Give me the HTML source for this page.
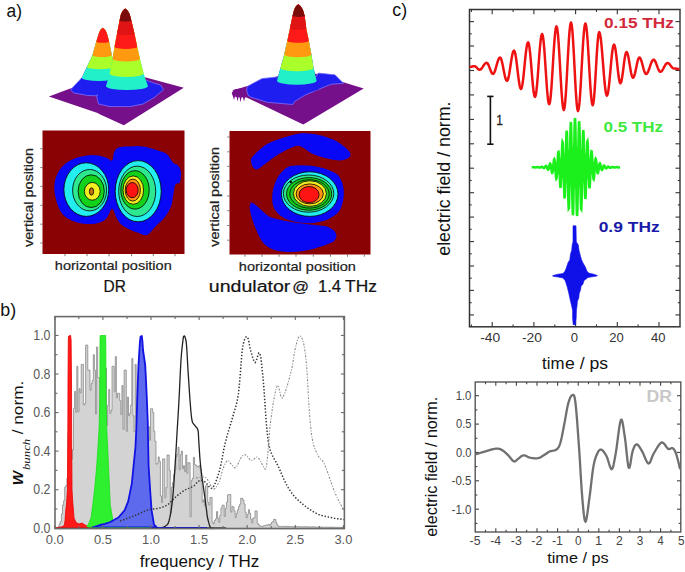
<!DOCTYPE html>
<html><head><meta charset="utf-8"><style>
html,body{margin:0;padding:0;background:#fff;width:685px;height:572px;overflow:hidden}
svg{display:block}
text{font-family:"Liberation Sans",sans-serif}
</style></head><body>
<svg width="685" height="572" viewBox="0 0 685 572">
<rect width="685" height="572" fill="#fff"/>
<polygon points="48.9,96.4 119,70.3 183.8,87.8 123.8,125.3 100.2,114.6 97.6,112.9" fill="#760f8a"/>
<path d="M81.8,77.8 L74,86 L70.5,90 L74,93 L88,95.5 L102,96 L110,92 L112,78 Z" fill="#1e1ef0" stroke="#7a70ff" stroke-width="0.8"/>
<path d="M104,84 L98.5,90 L96.8,97 L98.5,104 L110,106.6 L130,106.6 L143,104 L155,97 L163.5,89.5 L160.5,85 L152,82.5 L146,80 Z" fill="#1e1ef0" stroke="#7a70ff" stroke-width="0.8"/>
<path d="M102.8,27.7 L105.4,30.3 L106.7,32.9 L107.5,35.5 L108.2,38.1 L108.9,40.7 L109.4,43.3 L109.9,45.9 L110.5,48.5 L111.0,51.1 L111.5,53.7 L112.0,56.3 L112.5,58.8 L113.0,61.4 L113.5,64.0 L114.0,66.6 L114.4,69.2 L114.9,71.8 L115.4,74.4 L115.9,77.0 L116.7,79.6 L117.7,82.2 L118.7,84.8 L119.8,87.4 L120.0,90.0 A22.0,4.0 0 0 1 76.0,90.0 L76.3,87.4 L77.8,84.8 L79.3,82.2 L80.8,79.6 L82.2,77.0 L83.4,74.4 L84.6,71.8 L85.8,69.2 L87.0,66.6 L88.3,64.0 L89.5,61.4 L90.8,58.8 L92.0,56.3 L92.9,53.7 L93.7,51.1 L94.4,48.5 L95.1,45.9 L95.8,43.3 L96.6,40.7 L97.4,38.1 L98.2,35.5 L99.0,32.9 L100.2,30.3 Z" fill="#1e1ef0"/>
<path d="M102.8,27.7 L105.1,29.8 L106.2,31.9 L107.1,34.0 L107.6,36.0 L108.2,38.1 L108.7,40.2 L109.2,42.3 L109.7,44.4 L110.1,46.5 L110.5,48.6 L110.9,50.7 L111.3,52.8 L111.7,54.8 L112.1,56.9 L112.5,59.0 L112.9,61.1 L113.3,63.2 L113.7,65.3 L114.1,67.4 L114.5,69.4 L114.9,71.5 L115.2,73.6 L115.6,75.7 L116.0,77.8 A17.1,3.1 0 0 1 81.8,77.8 L82.8,75.7 L83.8,73.6 L84.7,71.5 L85.7,69.4 L86.7,67.4 L87.7,65.3 L88.7,63.2 L89.7,61.1 L90.7,59.0 L91.7,56.9 L92.6,54.8 L93.2,52.8 L93.8,50.7 L94.4,48.6 L94.9,46.5 L95.5,44.4 L96.1,42.3 L96.7,40.2 L97.4,38.1 L98.0,36.0 L98.7,34.0 L99.5,31.9 L100.5,29.8 Z" fill="#22f0c8"/>
<path d="M102.8,27.7 L104.8,29.3 L105.8,31.0 L106.6,32.6 L107.1,34.2 L107.6,35.9 L108.0,37.5 L108.4,39.1 L108.9,40.8 L109.3,42.4 L109.6,44.0 L109.9,45.7 L110.2,47.3 L110.6,48.9 L110.9,50.6 L111.2,52.2 L111.5,53.8 L111.9,55.5 L112.2,57.1 L112.5,58.7 L112.8,60.4 L113.1,62.0 L113.4,63.6 L113.7,65.3 L114.0,66.9 A13.5,2.4 0 0 1 86.9,66.9 L87.7,65.3 L88.5,63.6 L89.2,62.0 L90.0,60.4 L90.8,58.7 L91.6,57.1 L92.4,55.5 L92.9,53.8 L93.3,52.2 L93.8,50.6 L94.3,48.9 L94.7,47.3 L95.2,45.7 L95.6,44.0 L96.1,42.4 L96.6,40.8 L97.1,39.1 L97.6,37.5 L98.1,35.9 L98.6,34.2 L99.2,32.6 L99.9,31.0 L100.8,29.3 Z" fill="#aaff2a"/>
<path d="M102.8,27.7 L104.2,28.8 L105.3,30.0 L105.8,31.1 L106.4,32.3 L106.9,33.4 L107.2,34.6 L107.5,35.7 L107.8,36.9 L108.1,38.0 L108.4,39.2 L108.8,40.3 L109.1,41.5 L109.3,42.6 L109.5,43.7 L109.8,44.9 L110.0,46.0 L110.2,47.2 L110.4,48.3 L110.7,49.5 L110.9,50.6 L111.1,51.8 L111.3,52.9 L111.6,54.1 L111.8,55.2 A9.6,1.7 0 0 1 92.5,55.2 L92.8,54.1 L93.1,52.9 L93.5,51.8 L93.8,50.6 L94.1,49.5 L94.4,48.3 L94.7,47.2 L95.1,46.0 L95.4,44.9 L95.7,43.7 L96.0,42.6 L96.3,41.5 L96.7,40.3 L97.1,39.2 L97.4,38.0 L97.8,36.9 L98.1,35.7 L98.5,34.6 L98.9,33.4 L99.3,32.3 L99.9,31.1 L100.4,30.0 L101.4,28.8 Z" fill="#ff9a10"/>
<path d="M102.8,27.7 L103.5,28.3 L104.2,28.9 L104.9,29.4 L105.3,30.0 L105.6,30.6 L105.9,31.2 L106.2,31.8 L106.5,32.3 L106.8,32.9 L106.9,33.5 L107.1,34.1 L107.2,34.6 L107.4,35.2 L107.6,35.8 L107.7,36.4 L107.9,37.0 L108.0,37.5 L108.2,38.1 L108.3,38.7 L108.5,39.3 L108.6,39.9 L108.8,40.4 L108.9,41.0 L109.1,41.6 A6.4,1.2 0 0 1 96.3,41.6 L96.5,41.0 L96.7,40.4 L96.8,39.9 L97.0,39.3 L97.2,38.7 L97.4,38.1 L97.6,37.5 L97.8,37.0 L97.9,36.4 L98.1,35.8 L98.3,35.2 L98.5,34.6 L98.7,34.1 L98.8,33.5 L99.0,32.9 L99.3,32.3 L99.6,31.8 L99.8,31.2 L100.1,30.6 L100.4,30.0 L100.7,29.4 L101.4,28.9 L102.1,28.3 Z" fill="#ff1a1a"/>
<path d="M125.2,8.5 L128.3,11.7 L129.9,15.0 L130.7,18.2 L131.6,21.5 L132.3,24.7 L133.1,27.9 L133.9,31.2 L134.7,34.4 L135.3,37.6 L136.0,40.9 L136.7,44.1 L137.3,47.4 L138.1,50.6 L138.8,53.8 L139.6,57.1 L140.3,60.3 L141.2,63.5 L142.0,66.8 L142.8,70.0 L143.6,73.2 L144.6,76.5 L145.7,79.7 L146.9,83.0 L148.0,86.2 A21.1,4.2 0 0 1 105.9,86.2 L106.9,83.0 L107.8,79.7 L108.8,76.5 L109.7,73.2 L110.3,70.0 L111.0,66.8 L111.6,63.5 L112.2,60.3 L112.8,57.1 L113.3,53.8 L113.9,50.6 L114.4,47.4 L115.0,44.1 L115.6,40.9 L116.2,37.6 L116.8,34.4 L117.5,31.2 L118.1,27.9 L118.8,24.7 L119.4,21.5 L120.1,18.2 L120.8,15.0 L122.3,11.7 Z" fill="#22f0c8"/>
<path d="M125.2,8.5 L128.0,11.2 L129.6,13.9 L130.3,16.6 L131.0,19.3 L131.7,22.0 L132.4,24.8 L133.0,27.5 L133.7,30.2 L134.3,32.9 L134.9,35.6 L135.5,38.3 L136.0,41.0 L136.6,43.7 L137.1,46.4 L137.8,49.1 L138.4,51.8 L139.0,54.5 L139.6,57.2 L140.3,60.0 L140.9,62.7 L141.6,65.4 L142.3,68.1 L143.0,70.8 L143.6,73.5 A17.0,3.4 0 0 1 109.6,73.5 L110.2,70.8 L110.7,68.1 L111.2,65.4 L111.8,62.7 L112.3,60.0 L112.8,57.2 L113.2,54.5 L113.7,51.8 L114.1,49.1 L114.6,46.4 L115.1,43.7 L115.6,41.0 L116.1,38.3 L116.6,35.6 L117.1,32.9 L117.7,30.2 L118.2,27.5 L118.7,24.8 L119.3,22.0 L119.8,19.3 L120.4,16.6 L121.0,13.9 L122.6,11.2 Z" fill="#aaff2a"/>
<path d="M125.2,8.5 L127.7,10.6 L128.9,12.7 L129.8,14.8 L130.4,16.9 L130.9,19.0 L131.5,21.1 L132.0,23.2 L132.5,25.3 L133.0,27.4 L133.5,29.5 L134.0,31.6 L134.5,33.7 L135.0,35.8 L135.4,37.9 L135.8,40.0 L136.3,42.1 L136.7,44.2 L137.1,46.3 L137.6,48.4 L138.1,50.5 L138.6,52.6 L139.0,54.7 L139.5,56.8 L140.0,58.9 A13.8,2.8 0 0 1 112.5,58.9 L112.8,56.8 L113.2,54.7 L113.5,52.6 L113.9,50.5 L114.2,48.4 L114.6,46.3 L115.0,44.2 L115.4,42.1 L115.8,40.0 L116.2,37.9 L116.6,35.8 L117.0,33.7 L117.4,31.6 L117.8,29.5 L118.2,27.4 L118.6,25.3 L119.0,23.2 L119.5,21.1 L119.9,19.0 L120.4,16.9 L120.8,14.8 L121.7,12.7 L122.9,10.6 Z" fill="#ff9a10"/>
<path d="M125.2,8.5 L127.1,10.1 L128.3,11.7 L129.2,13.3 L129.8,14.9 L130.3,16.5 L130.7,18.1 L131.1,19.6 L131.5,21.2 L131.9,22.8 L132.3,24.4 L132.7,26.0 L133.0,27.6 L133.4,29.2 L133.8,30.8 L134.2,32.4 L134.6,34.0 L134.9,35.6 L135.2,37.2 L135.6,38.7 L135.9,40.3 L136.2,41.9 L136.5,43.5 L136.9,45.1 L137.2,46.7 A11.3,2.3 0 0 1 114.5,46.7 L114.8,45.1 L115.1,43.5 L115.4,41.9 L115.7,40.3 L116.0,38.7 L116.3,37.2 L116.6,35.6 L116.9,34.0 L117.2,32.4 L117.6,30.8 L117.9,29.2 L118.2,27.6 L118.5,26.0 L118.8,24.4 L119.1,22.8 L119.4,21.2 L119.8,19.6 L120.1,18.1 L120.5,16.5 L120.8,14.9 L121.4,13.3 L122.3,11.7 L123.4,10.1 Z" fill="#ff1a1a"/>
<path d="M125.2,8.5 L126.5,9.5 L127.7,10.6 L128.2,11.6 L128.8,12.7 L129.4,13.7 L129.8,14.8 L130.1,15.8 L130.4,16.9 L130.6,17.9 L130.9,19.0 L131.2,20.0 L131.5,21.1 L131.7,22.1 L132.0,23.1 L132.2,24.2 L132.5,25.2 L132.7,26.3 L133.0,27.3 L133.2,28.4 L133.5,29.4 L133.7,30.5 L134.0,31.5 L134.2,32.6 L134.5,33.6 A8.8,1.8 0 0 1 117.0,33.6 L117.2,32.6 L117.4,31.5 L117.6,30.5 L117.8,29.4 L118.0,28.4 L118.2,27.3 L118.4,26.3 L118.6,25.2 L118.9,24.2 L119.1,23.1 L119.3,22.1 L119.5,21.1 L119.7,20.0 L119.9,19.0 L120.1,17.9 L120.4,16.9 L120.6,15.8 L120.8,14.8 L121.2,13.7 L121.8,12.7 L122.3,11.6 L122.9,10.6 L124.0,9.5 Z" fill="#e01414"/>
<path d="M125.2,8.5 L125.8,9.0 L126.4,9.5 L127.0,10.0 L127.6,10.5 L127.9,11.0 L128.2,11.5 L128.4,12.0 L128.7,12.5 L129.0,13.0 L129.3,13.5 L129.6,14.0 L129.7,14.4 L129.9,14.9 L130.0,15.4 L130.1,15.9 L130.2,16.4 L130.4,16.9 L130.5,17.4 L130.6,17.9 L130.8,18.4 L130.9,18.9 L131.0,19.4 L131.2,19.9 L131.3,20.4 A5.9,1.2 0 0 1 119.6,20.4 L119.7,19.9 L119.8,19.4 L119.9,18.9 L120.0,18.4 L120.1,17.9 L120.3,17.4 L120.4,16.9 L120.5,16.4 L120.6,15.9 L120.7,15.4 L120.8,14.9 L120.9,14.4 L121.0,14.0 L121.3,13.5 L121.6,13.0 L121.9,12.5 L122.2,12.0 L122.4,11.5 L122.7,11.0 L123.0,10.5 L123.6,10.0 L124.1,9.5 L124.7,9.0 Z" fill="#7a0c0c"/>
<polygon points="232.4,90.7 300.3,69 363.7,88.6 303.3,124.6" fill="#760f8a"/>
<polygon points="231.7,93 234,89.5 238,88.8 242,88 247,86.5 249,97 244,97.5 238,97 233,96.5" fill="#760f8a"/>
<polygon points="232.9,96 235.1,96 234,100" fill="#760f8a"/>
<polygon points="236.4,96.5 238.6,96.5 237.5,101.5" fill="#760f8a"/>
<polygon points="239.4,96.8 241.6,96.8 240.5,102.3" fill="#760f8a"/>
<polygon points="242.9,97 245.1,97 244,101.5" fill="#760f8a"/>
<path d="M247.2,86.8 L251.3,84.2 L262,78.6 L277.9,76.9 L316,76.9 L318.1,73.1 L335,74.8 L343.5,83.3 L330.8,84.3 L318.1,89.6 L305.4,94.9 L294.9,101.3 L292.7,104.5 L267.3,102.3 L250.4,97 L248,95 L246.6,90 Z" fill="#1e1ef0" stroke="#7a70ff" stroke-width="0.8"/>
<path d="M298.3,4.2 L301.6,7.7 L303.3,11.2 L304.3,14.7 L304.9,18.2 L305.4,21.7 L305.8,25.1 L306.3,28.6 L307.0,32.1 L307.7,35.6 L308.4,39.1 L309.1,42.6 L309.8,46.1 L310.4,49.6 L311.1,53.1 L311.7,56.6 L312.3,60.1 L312.8,63.6 L313.4,67.0 L314.1,70.5 L315.0,74.0 L315.8,77.5 L316.7,81.0 L318.0,84.5 L319.3,88.0 A22.3,4.5 0 0 1 274.6,88.0 L275.8,84.5 L276.9,81.0 L277.9,77.5 L278.8,74.0 L279.8,70.5 L280.8,67.0 L281.7,63.6 L282.7,60.1 L283.7,56.6 L284.5,53.1 L285.3,49.6 L286.1,46.1 L286.9,42.6 L287.7,39.1 L288.4,35.6 L289.2,32.1 L289.9,28.6 L290.7,25.1 L291.4,21.7 L292.1,18.2 L292.9,14.7 L293.8,11.2 L295.2,7.7 Z" fill="#1e1ef0"/>
<path d="M298.3,4.2 L301.4,7.4 L303.1,10.6 L304.0,13.8 L304.8,16.9 L305.2,20.1 L305.6,23.3 L306.0,26.5 L306.5,29.7 L307.1,32.9 L307.8,36.1 L308.5,39.3 L309.1,42.5 L309.7,45.6 L310.3,48.8 L310.9,52.0 L311.5,55.2 L312.0,58.4 L312.5,61.6 L313.0,64.8 L313.5,68.0 L314.3,71.1 L315.0,74.3 L315.8,77.5 L316.6,80.7 A19.8,4.0 0 0 1 277.0,80.7 L277.9,77.5 L278.8,74.3 L279.6,71.1 L280.5,68.0 L281.4,64.8 L282.3,61.6 L283.2,58.4 L284.0,55.2 L284.8,52.0 L285.5,48.8 L286.2,45.6 L286.9,42.5 L287.7,39.3 L288.3,36.1 L289.0,32.9 L289.7,29.7 L290.4,26.5 L291.0,23.3 L291.7,20.1 L292.3,16.9 L293.1,13.8 L293.9,10.6 L295.4,7.4 Z" fill="#22f0c8"/>
<path d="M298.3,4.2 L301.0,6.9 L302.8,9.5 L303.6,12.2 L304.3,14.8 L304.8,17.5 L305.2,20.1 L305.5,22.8 L305.8,25.5 L306.2,28.1 L306.7,30.8 L307.3,33.4 L307.8,36.1 L308.4,38.8 L308.9,41.4 L309.4,44.1 L309.9,46.7 L310.4,49.4 L310.9,52.0 L311.4,54.7 L311.8,57.4 L312.3,60.0 L312.7,62.7 L313.1,65.3 L313.5,68.0 A16.5,3.3 0 0 1 280.5,68.0 L281.2,65.3 L282.0,62.7 L282.7,60.0 L283.4,57.4 L284.2,54.7 L284.8,52.0 L285.4,49.4 L286.0,46.7 L286.6,44.1 L287.2,41.4 L287.8,38.8 L288.3,36.1 L288.9,33.4 L289.5,30.8 L290.0,28.1 L290.6,25.5 L291.1,22.8 L291.7,20.1 L292.2,17.5 L292.8,14.8 L293.5,12.2 L294.2,9.5 L295.6,6.9 Z" fill="#aaff2a"/>
<path d="M298.3,4.2 L300.7,6.3 L302.1,8.4 L303.1,10.5 L303.7,12.6 L304.3,14.7 L304.7,16.8 L305.0,18.9 L305.3,21.0 L305.5,23.1 L305.8,25.2 L306.1,27.3 L306.4,29.4 L306.9,31.5 L307.3,33.6 L307.7,35.7 L308.2,37.8 L308.6,39.9 L309.0,42.0 L309.4,44.1 L309.8,46.2 L310.2,48.3 L310.6,50.4 L311.0,52.5 L311.4,54.6 A13.6,2.7 0 0 1 284.2,54.6 L284.7,52.5 L285.2,50.4 L285.6,48.3 L286.1,46.2 L286.6,44.1 L287.1,42.0 L287.5,39.9 L288.0,37.8 L288.4,35.7 L288.9,33.6 L289.3,31.5 L289.8,29.4 L290.2,27.3 L290.6,25.2 L291.1,23.1 L291.5,21.0 L291.9,18.9 L292.4,16.8 L292.9,14.7 L293.4,12.6 L293.9,10.5 L294.8,8.4 L295.9,6.3 Z" fill="#ff9a10"/>
<path d="M298.3,4.2 L300.1,5.7 L301.3,7.3 L302.3,8.8 L303.0,10.3 L303.5,11.8 L303.9,13.4 L304.4,14.9 L304.7,16.4 L304.9,18.0 L305.1,19.5 L305.3,21.0 L305.5,22.5 L305.7,24.1 L305.9,25.6 L306.1,27.1 L306.3,28.7 L306.6,30.2 L306.9,31.7 L307.2,33.3 L307.5,34.8 L307.9,36.3 L308.2,37.8 L308.5,39.4 L308.8,40.9 A10.8,2.1 0 0 1 287.3,40.9 L287.6,39.4 L288.0,37.8 L288.3,36.3 L288.6,34.8 L288.9,33.3 L289.3,31.7 L289.6,30.2 L289.9,28.7 L290.2,27.1 L290.6,25.6 L290.9,24.1 L291.2,22.5 L291.5,21.0 L291.8,19.5 L292.1,18.0 L292.4,16.4 L292.8,14.9 L293.2,13.4 L293.6,11.8 L294.0,10.3 L294.6,8.8 L295.4,7.3 L296.5,5.7 Z" fill="#ff1a1a"/>
<path d="M298.3,4.2 L299.5,5.2 L300.6,6.2 L301.3,7.2 L301.9,8.2 L302.6,9.2 L303.0,10.2 L303.3,11.2 L303.6,12.2 L303.9,13.2 L304.2,14.2 L304.5,15.2 L304.7,16.3 L304.8,17.3 L304.9,18.3 L305.1,19.3 L305.2,20.3 L305.3,21.3 L305.4,22.3 L305.6,23.3 L305.7,24.3 L305.8,25.3 L305.9,26.3 L306.1,27.3 L306.2,28.3 A8.1,1.6 0 0 1 290.0,28.3 L290.2,27.3 L290.4,26.3 L290.6,25.3 L290.8,24.3 L291.0,23.3 L291.2,22.3 L291.5,21.3 L291.7,20.3 L291.9,19.3 L292.1,18.3 L292.3,17.3 L292.5,16.3 L292.7,15.2 L293.0,14.2 L293.2,13.2 L293.5,12.2 L293.8,11.2 L294.0,10.2 L294.4,9.2 L294.9,8.2 L295.4,7.2 L296.0,6.2 L297.1,5.2 Z" fill="#e01414"/>
<path d="M298.3,4.2 L298.9,4.7 L299.4,5.2 L300.0,5.6 L300.5,6.1 L300.9,6.6 L301.2,7.1 L301.5,7.6 L301.8,8.0 L302.1,8.5 L302.5,9.0 L302.8,9.5 L302.9,9.9 L303.1,10.4 L303.2,10.9 L303.3,11.4 L303.5,11.9 L303.6,12.3 L303.8,12.8 L303.9,13.3 L304.0,13.8 L304.2,14.3 L304.3,14.7 L304.5,15.2 L304.6,15.7 A6.0,1.2 0 0 1 292.6,15.7 L292.7,15.2 L292.8,14.7 L293.0,14.3 L293.1,13.8 L293.2,13.3 L293.3,12.8 L293.5,12.3 L293.6,11.9 L293.7,11.4 L293.8,10.9 L294.0,10.4 L294.1,9.9 L294.2,9.5 L294.5,9.0 L294.7,8.5 L295.0,8.0 L295.3,7.6 L295.5,7.1 L295.8,6.6 L296.1,6.1 L296.6,5.6 L297.2,5.2 L297.7,4.7 Z" fill="#7a0c0c"/>
<rect x="42.5" y="130.5" width="142" height="123.5" fill="#8a0204"/>
<polygon points="114.20,151.90 114.82,150.69 115.45,149.67 116.20,148.82 117.18,148.10 118.50,147.50 120.24,147.05 122.32,146.77 124.63,146.60 127.06,146.50 129.50,146.40 131.99,146.28 134.59,146.16 137.26,146.11 139.95,146.17 142.60,146.40 145.26,146.83 147.95,147.43 150.62,148.15 153.22,148.92 155.70,149.70 158.09,150.42 160.42,151.13 162.66,151.91 164.73,152.84 166.60,154.00 168.23,155.58 169.66,157.51 170.92,159.54 172.09,161.39 173.20,162.80 174.24,163.59 175.17,163.95 176.02,164.13 176.83,164.39 177.60,165.00 178.40,165.95 179.21,167.07 179.95,168.37 180.54,169.84 180.90,171.50 181.01,173.55 180.94,176.00 180.69,178.52 180.30,180.79 179.80,182.50 179.10,183.36 178.17,183.60 177.16,183.62 176.19,183.84 175.40,184.70 174.82,186.32 174.36,188.43 173.97,190.82 173.60,193.28 173.20,195.60 172.83,197.78 172.53,199.96 172.19,202.13 171.72,204.31 171.00,206.50 170.01,208.73 168.82,211.00 167.47,213.26 166.02,215.45 164.50,217.50 162.89,219.39 161.14,221.14 159.32,222.82 157.49,224.49 155.70,226.20 153.96,228.13 152.22,230.24 150.48,232.27 148.74,233.94 147.00,235.00 145.24,235.28 143.48,234.96 141.72,234.29 139.96,233.49 138.20,232.80 136.46,232.25 134.72,231.66 132.98,231.03 131.24,230.32 129.50,229.50 127.68,228.56 125.78,227.51 123.91,226.38 122.18,225.20 120.70,224.00 119.54,222.80 118.62,221.58 117.85,220.31 117.11,218.96 116.30,217.50 115.45,215.57 114.64,213.20 113.81,210.91 112.91,209.24 111.90,208.70 110.84,209.72 109.77,211.95 108.58,214.76 107.16,217.52 105.40,219.60 103.27,221.00 100.85,222.14 98.17,223.03 95.31,223.65 92.30,224.00 89.01,224.09 85.41,223.91 81.69,223.46 78.09,222.76 74.80,221.80 71.79,220.62 68.93,219.21 66.26,217.53 63.83,215.51 61.70,213.10 59.86,210.13 58.28,206.63 56.95,202.86 55.89,199.10 55.10,195.60 54.57,192.36 54.31,189.22 54.31,186.16 54.57,183.18 55.10,180.30 55.89,177.47 56.95,174.70 58.28,172.02 59.86,169.51 61.70,167.20 63.83,165.08 66.26,163.11 68.93,161.32 71.79,159.74 74.80,158.40 78.09,157.30 81.69,156.42 85.41,155.76 89.01,155.32 92.30,155.10 95.31,155.17 98.17,155.53 100.85,156.08 103.27,156.70 105.40,157.30 107.19,158.08 108.68,159.12 109.92,160.09 110.97,160.69 111.90,160.60 112.60,159.56 113.03,157.78 113.34,155.65 113.68,153.56" fill="#0808f6"/>
<ellipse cx="86.3" cy="189.6" rx="22.4" ry="26.8" fill="#22eef0" stroke="#000" stroke-width="0.8"/>
<ellipse cx="89.6" cy="190.2" rx="17" ry="20.7" fill="#2ee890" stroke="#000" stroke-width="0.8"/>
<ellipse cx="91.2" cy="191.2" rx="13.1" ry="16.4" fill="#12d21a" stroke="#000" stroke-width="0.8"/>
<ellipse cx="92.3" cy="191.3" rx="7.9" ry="8.9" fill="#f2f020" stroke="#000" stroke-width="0.8"/>
<ellipse cx="91.5" cy="191.5" rx="2.1" ry="3.7" fill="#c07010" stroke="#000" stroke-width="0.8"/>
<ellipse cx="138.2" cy="191.2" rx="23" ry="30.6" fill="#22eef0" stroke="#000" stroke-width="0.8"/>
<ellipse cx="137.2" cy="191.3" rx="18.5" ry="25.2" fill="#2ee890" stroke="#000" stroke-width="0.8"/>
<ellipse cx="135" cy="189.9" rx="14.2" ry="19.2" fill="#12d21a" stroke="#000" stroke-width="0.8"/>
<ellipse cx="133.3" cy="190.1" rx="10.3" ry="14.2" fill="#f2f020" stroke="#000" stroke-width="0.8"/>
<ellipse cx="132.8" cy="190.1" rx="7.6" ry="11" fill="#ff9410" stroke="#000" stroke-width="0.8"/>
<ellipse cx="132.2" cy="190.1" rx="6" ry="7.6" fill="#ff1414" stroke="#000" stroke-width="0.8"/>
<line x1="40.3" y1="148.7" x2="42.5" y2="148.7" stroke="#555" stroke-width="0.8" />
<line x1="40.3" y1="167.6" x2="42.5" y2="167.6" stroke="#555" stroke-width="0.8" />
<line x1="40.3" y1="186.4" x2="42.5" y2="186.4" stroke="#555" stroke-width="0.8" />
<line x1="40.3" y1="205.3" x2="42.5" y2="205.3" stroke="#555" stroke-width="0.8" />
<line x1="40.3" y1="224.2" x2="42.5" y2="224.2" stroke="#555" stroke-width="0.8" />
<line x1="40.3" y1="243.0" x2="42.5" y2="243.0" stroke="#555" stroke-width="0.8" />
<line x1="65.0" y1="254.0" x2="65.0" y2="256.2" stroke="#555" stroke-width="0.8" />
<line x1="87.0" y1="254.0" x2="87.0" y2="256.2" stroke="#555" stroke-width="0.8" />
<line x1="109.0" y1="254.0" x2="109.0" y2="256.2" stroke="#555" stroke-width="0.8" />
<line x1="131.6" y1="254.0" x2="131.6" y2="256.2" stroke="#555" stroke-width="0.8" />
<line x1="153.3" y1="254.0" x2="153.3" y2="256.2" stroke="#555" stroke-width="0.8" />
<line x1="175.0" y1="254.0" x2="175.0" y2="256.2" stroke="#555" stroke-width="0.8" />
<rect x="229.5" y="131" width="141" height="123.5" fill="#8a0204"/>
<polygon points="252.30,156.90 254.22,154.80 256.80,152.23 259.83,149.47 263.07,146.83 266.30,144.60 269.58,142.82 273.05,141.29 276.63,139.95 280.24,138.74 283.80,137.60 287.30,136.47 290.80,135.40 294.30,134.46 297.80,133.73 301.30,133.30 304.83,133.20 308.38,133.38 311.92,133.77 315.41,134.33 318.80,135.00 322.15,135.80 325.50,136.78 328.74,137.88 331.81,139.07 334.60,140.30 337.12,141.61 339.44,143.02 341.54,144.48 343.42,145.93 345.10,147.30 346.59,148.60 347.89,149.89 348.97,151.13 349.79,152.30 350.30,153.40 350.52,154.42 350.46,155.37 350.12,156.25 349.50,157.06 348.60,157.80 347.35,158.51 345.75,159.18 343.91,159.76 341.89,160.19 339.80,160.40 337.61,160.36 335.25,160.12 332.77,159.71 330.21,159.19 327.60,158.60 324.80,157.90 321.80,157.06 318.79,156.15 315.99,155.21 313.60,154.30 311.74,153.42 310.26,152.52 309.00,151.63 307.80,150.75 306.50,149.90 305.09,149.00 303.69,148.05 302.30,147.16 300.90,146.44 299.50,146.00 298.21,145.84 297.04,145.87 295.80,146.12 294.35,146.59 292.50,147.30 290.12,148.31 287.32,149.61 284.31,151.10 281.30,152.70 278.50,154.30 275.89,155.97 273.33,157.78 270.85,159.62 268.49,161.39 266.30,163.00 264.25,164.53 262.32,166.04 260.54,167.42 258.92,168.51 257.50,169.20 256.30,169.41 255.30,169.22 254.47,168.75 253.75,168.11 253.10,167.40 252.51,166.58 252.02,165.57 251.62,164.45 251.35,163.30 251.20,162.20 251.02,161.26 250.80,160.42 250.79,159.53 251.21,158.41" fill="#0808f6"/>
<path d="M250.7,202.5 C256,203 262,212 270,217 C285,222 305,224 325,226 C336,229 340,236 333,242 C322,247 305,252 290,252 C275,252 265,248 260,238 C255,228 250,215 249.6,207 Z" fill="#0808f6"/>
<path d="M290,166 C305,164 325,166 338,175 C346,185 345,200 340,210 C333,220 318,224 305,223 C290,222 276,217 273,205 C270,192 276,172 290,166 Z" fill="#0808f6"/>
<ellipse cx="309.7" cy="194.1" rx="28.3" ry="22.3" fill="#22eef0" stroke="#000" stroke-width="0.8"/>
<ellipse cx="308.6" cy="193.6" rx="25.2" ry="18.6" fill="#2ee890" stroke="#000" stroke-width="0.8"/>
<ellipse cx="309.1" cy="193.9" rx="22.6" ry="16.3" fill="#12d21a" stroke="#000" stroke-width="0.8"/>
<ellipse cx="309.5" cy="193.9" rx="19.7" ry="14.2" fill="#28c828" stroke="#000" stroke-width="0.8"/>
<ellipse cx="309.9" cy="193.6" rx="16.5" ry="12.8" fill="#f2f020" stroke="#000" stroke-width="0.8"/>
<ellipse cx="309.7" cy="193.9" rx="13.6" ry="10" fill="#ff9410" stroke="#000" stroke-width="0.8"/>
<ellipse cx="309.1" cy="194.6" rx="10" ry="8.1" fill="#ff1414" stroke="#000" stroke-width="0.8"/>
<circle cx="290.8" cy="182" r="1.2" fill="#000"/>
<line x1="227.3" y1="137.0" x2="229.5" y2="137.0" stroke="#555" stroke-width="0.8" />
<line x1="227.3" y1="151.8" x2="229.5" y2="151.8" stroke="#555" stroke-width="0.8" />
<line x1="227.3" y1="166.4" x2="229.5" y2="166.4" stroke="#555" stroke-width="0.8" />
<line x1="227.3" y1="181.0" x2="229.5" y2="181.0" stroke="#555" stroke-width="0.8" />
<line x1="227.3" y1="196.0" x2="229.5" y2="196.0" stroke="#555" stroke-width="0.8" />
<line x1="227.3" y1="210.7" x2="229.5" y2="210.7" stroke="#555" stroke-width="0.8" />
<line x1="227.3" y1="225.5" x2="229.5" y2="225.5" stroke="#555" stroke-width="0.8" />
<line x1="227.3" y1="240.2" x2="229.5" y2="240.2" stroke="#555" stroke-width="0.8" />
<line x1="245.0" y1="254.5" x2="245.0" y2="256.7" stroke="#555" stroke-width="0.8" />
<line x1="262.0" y1="254.5" x2="262.0" y2="256.7" stroke="#555" stroke-width="0.8" />
<line x1="279.0" y1="254.5" x2="279.0" y2="256.7" stroke="#555" stroke-width="0.8" />
<line x1="296.0" y1="254.5" x2="296.0" y2="256.7" stroke="#555" stroke-width="0.8" />
<line x1="313.3" y1="254.5" x2="313.3" y2="256.7" stroke="#555" stroke-width="0.8" />
<line x1="330.5" y1="254.5" x2="330.5" y2="256.7" stroke="#555" stroke-width="0.8" />
<line x1="347.5" y1="254.5" x2="347.5" y2="256.7" stroke="#555" stroke-width="0.8" />
<line x1="364.3" y1="254.5" x2="364.3" y2="256.7" stroke="#555" stroke-width="0.8" />
<polygon points="56.00,528.30 57.00,527.80 58.10,527.80 58.10,526.74 59.20,526.74 59.20,523.81 60.30,523.81 60.30,521.39 61.40,521.39 61.40,513.82 62.50,513.82 62.50,505.05 63.60,505.05 63.60,500.79 64.70,500.79 64.70,487.24 65.80,487.24 65.80,485.47 66.90,485.47 66.90,478.17 68.00,478.17 68.00,433.04 69.10,433.04 69.10,447.14 70.20,447.14 70.20,448.97 71.30,448.97 71.30,459.14 72.40,459.14 72.40,449.70 73.50,449.70 73.50,408.44 74.60,408.44 74.60,391.34 75.70,391.34 75.70,412.40 76.80,412.40 76.80,366.26 77.90,366.26 77.90,411.76 79.00,411.76 79.00,388.69 80.10,388.69 80.10,392.94 81.20,392.94 81.20,364.33 82.30,364.33 82.30,364.33 83.40,364.33 83.40,404.85 84.50,404.85 84.50,403.61 85.60,403.61 85.60,345.04 86.70,345.04 86.70,345.04 87.80,345.04 87.80,370.12 88.90,370.12 88.90,370.12 90.00,370.12 90.00,390.24 91.10,390.24 91.10,383.62 92.20,383.62 92.20,380.54 93.30,380.54 93.30,354.69 94.40,354.69 94.40,370.25 95.50,370.25 95.50,413.99 96.60,413.99 96.60,346.97 97.70,346.97 97.70,377.84 98.80,377.84 98.80,377.84 99.90,377.84 99.90,418.28 101.00,418.28 101.00,389.11 102.10,389.11 102.10,417.12 103.20,417.12 103.20,422.05 104.30,422.05 104.30,398.34 105.40,398.34 105.40,368.19 106.50,368.19 106.50,425.34 107.60,425.34 107.60,405.22 108.70,405.22 108.70,389.41 109.80,389.41 109.80,413.33 110.90,413.33 110.90,410.11 112.00,410.11 112.00,366.26 113.10,366.26 113.10,366.26 114.20,366.26 114.20,391.77 115.30,391.77 115.30,356.62 116.40,356.62 116.40,397.92 117.50,397.92 117.50,393.27 118.60,393.27 118.60,393.27 119.70,393.27 119.70,400.73 120.80,400.73 120.80,414.39 121.90,414.39 121.90,385.55 123.00,385.55 123.00,429.28 124.10,429.28 124.10,370.12 125.20,370.12 125.20,370.12 126.30,370.12 126.30,431.29 127.40,431.29 127.40,397.13 128.50,397.13 128.50,415.71 129.60,415.71 129.60,413.32 130.70,413.32 130.70,405.03 131.80,405.03 131.80,358.55 132.90,358.55 132.90,415.78 134.00,415.78 134.00,431.72 135.10,431.72 135.10,364.33 136.20,364.33 136.20,417.97 137.30,417.97 137.30,427.37 138.40,427.37 138.40,429.15 139.50,429.15 139.50,450.59 140.60,450.59 140.60,429.51 141.70,429.51 141.70,450.48 142.80,450.48 142.80,436.26 143.90,436.26 143.90,441.30 145.00,441.30 145.00,448.82 146.10,448.82 146.10,428.39 147.20,428.39 147.20,428.39 148.30,428.39 148.30,426.66 149.40,426.66 149.40,440.28 150.50,440.28 150.50,408.70 151.60,408.70 151.60,408.70 152.70,408.70 152.70,412.56 153.80,412.56 153.80,431.32 154.90,431.32 154.90,441.24 156.00,441.24 156.00,464.19 157.10,464.19 157.10,463.18 158.20,463.18 158.20,456.93 159.30,456.93 159.30,461.40 160.40,461.40 160.40,495.81 161.50,495.81 161.50,502.67 162.60,502.67 162.60,458.86 163.70,458.86 163.70,458.86 164.80,458.86 164.80,497.91 165.90,497.91 165.90,487.60 167.00,487.60 167.00,455.00 168.10,455.00 168.10,455.00 169.20,455.00 169.20,470.43 170.30,470.43 170.30,513.03 171.40,513.03 171.40,487.24 172.50,487.24 172.50,482.45 173.60,482.45 173.60,474.64 174.70,474.64 174.70,469.92 175.80,469.92 175.80,456.32 176.90,456.32 176.90,454.25 178.00,454.25 178.00,447.28 179.10,447.28 179.10,469.83 180.20,469.83 180.20,454.76 181.30,454.76 181.30,451.14 182.40,451.14 182.40,468.62 183.50,468.62 183.50,465.68 184.60,465.68 184.60,471.59 185.70,471.59 185.70,455.00 186.80,455.00 186.80,473.30 187.90,473.30 187.90,462.64 189.00,462.64 189.00,462.86 190.10,462.86 190.10,516.85 191.20,516.85 191.20,480.43 192.30,480.43 192.30,478.28 193.40,478.28 193.40,457.37 194.50,457.37 194.50,464.64 195.60,464.64 195.60,465.33 196.70,465.33 196.70,466.57 197.80,466.57 197.80,466.57 198.90,466.57 198.90,465.79 200.00,465.79 200.00,468.97 201.10,468.97 201.10,482.16 202.20,482.16 202.20,502.15 203.30,502.15 203.30,499.80 204.40,499.80 204.40,505.91 205.50,505.91 205.50,485.86 206.60,485.86 206.60,485.86 207.70,485.86 207.70,502.15 208.80,502.15 208.80,505.13 209.90,505.13 209.90,497.44 211.00,497.44 211.00,497.44 212.10,497.44 212.10,522.32 213.20,522.32 213.20,523.73 214.30,523.73 214.30,520.52 215.40,520.52 215.40,518.88 216.50,518.88 216.50,511.61 217.60,511.61 217.60,518.11 218.70,518.11 218.70,522.21 219.80,522.21 219.80,515.45 220.90,515.45 220.90,508.33 222.00,508.33 222.00,505.15 223.10,505.15 223.10,505.15 224.20,505.15 224.20,516.46 225.30,516.46 225.30,508.38 226.40,508.38 226.40,502.15 227.50,502.15 227.50,494.87 228.60,494.87 228.60,494.54 229.70,494.54 229.70,494.54 230.80,494.54 230.80,512.09 231.90,512.09 231.90,506.35 233.00,506.35 233.00,507.16 234.10,507.16 234.10,511.02 235.20,511.02 235.20,517.41 236.30,517.41 236.30,513.33 237.40,513.33 237.40,509.82 238.50,509.82 238.50,506.57 239.60,506.57 239.60,504.16 240.70,504.16 240.70,498.17 241.80,498.17 241.80,498.59 242.90,498.59 242.90,500.16 244.00,500.16 244.00,504.03 245.10,504.03 245.10,512.21 246.20,512.21 246.20,517.80 247.30,517.80 247.30,514.32 248.40,514.32 248.40,509.66 249.50,509.66 249.50,513.07 250.60,513.07 250.60,519.11 251.70,519.11 251.70,523.03 252.80,523.03 252.80,518.04 253.90,518.04 253.90,517.74 255.00,517.74 255.00,510.94 256.10,510.94 256.10,510.94 257.20,510.94 257.20,523.27 258.30,523.27 258.30,524.67 259.40,524.67 259.40,525.83 260.50,525.83 260.50,526.28 261.60,526.28 261.60,526.40 262.70,526.40 262.70,526.00 263.80,526.00 263.80,525.63 264.90,525.63 264.90,525.48 266.00,525.48 266.00,524.96 267.10,524.96 267.10,525.15 268.20,525.15 268.20,524.37 269.30,524.37 269.30,525.14 270.40,525.14 270.40,523.98 271.50,523.98 271.50,522.27 272.60,522.27 272.60,521.60 273.70,521.60 273.70,519.23 274.80,519.23 274.80,519.52 275.90,519.52 275.90,522.58 277.00,522.58 277.00,525.00 278.10,525.00 278.10,526.42 279.20,526.42 279.20,526.59 280.30,526.59 280.30,526.56 281.40,526.56 281.40,526.30 282.50,526.30 282.50,526.28 283.60,526.28 283.60,526.71 284.70,526.71 284.70,526.35 285.80,526.35 285.80,526.29 286.90,526.29 286.90,526.57 288.00,526.57 288.00,526.55 289.10,526.55 289.10,526.78 290.20,526.78 290.20,526.61 291.30,526.61 291.30,526.64 292.40,526.64 292.40,526.60 293.50,526.60 293.50,526.93 294.60,526.93 294.60,526.44 295.70,526.44 295.70,526.70 296.80,526.70 296.80,526.77 297.90,526.77 297.90,526.58 299.00,526.58 299.00,526.72 300.10,526.72 300.10,526.77 301.20,526.77 301.20,526.68 302.30,526.68 302.30,527.01 303.40,527.01 303.40,526.79 304.50,526.79 304.50,526.87 305.60,526.87 305.60,526.62 306.70,526.62 306.70,526.66 307.80,526.66 307.80,526.98 308.90,526.98 308.90,526.90 310.00,526.90 310.00,527.08 311.10,527.08 311.10,526.95 312.20,526.95 312.20,526.79 313.30,526.79 313.30,526.77 314.40,526.77 314.40,526.98 315.50,526.98 315.50,527.06 316.60,527.06 316.60,527.13 317.70,527.13 317.70,526.96 318.80,526.96 318.80,526.85 319.90,526.85 319.90,527.20 321.00,527.20 321.00,526.94 322.10,526.94 322.10,527.27 323.20,527.27 323.20,527.21 324.30,527.21 324.30,527.21 325.40,527.21 325.40,527.05 326.50,527.05 326.50,527.21 327.60,527.21 327.60,527.21 328.70,527.21 328.70,527.12 329.80,527.12 329.80,527.33 330.90,527.33 330.90,527.11 332.00,527.11 332.00,527.35 333.10,527.35 333.10,527.23 334.20,527.23 334.20,527.33 335.30,527.33 335.30,527.36 336.40,527.36 336.40,527.26 337.50,527.26 337.50,527.31 338.60,527.31 338.60,527.35 339.70,527.35 339.70,527.35 340.80,527.35 340.80,527.33 341.90,527.33 341.90,527.46 343.00,527.46 343.00,527.46 344.10,527.46 344.00,528.30" fill="#d3d3d3" stroke="#7e7e7e" stroke-width="0.7" stroke-linejoin="round"/>
<polygon points="56.00,527.80 62.00,526.80 64.20,525.50 65.00,521.00 65.60,512.00 66.60,503.00 67.40,490.00 67.80,440.00 68.00,380.00 68.30,340.00 68.60,336.00 70.60,335.40 71.10,340.00 71.50,380.00 71.70,440.00 72.00,490.00 72.80,503.00 73.60,512.00 74.00,518.00 76.00,522.50 79.00,524.00 82.00,523.00 85.00,525.00 88.00,526.50 92.00,527.70" fill="#ff1a1a" stroke="#e80000" stroke-width="0.8"/>
<polygon points="86.00,528.00 88.50,524.00 91.00,518.00 92.70,505.40 94.50,490.00 96.40,470.00 97.80,450.00 99.00,430.00 99.80,400.00 100.00,340.00 100.20,335.50 105.60,335.50 105.80,340.00 106.00,400.00 106.80,430.00 107.80,450.00 108.70,470.00 109.60,490.00 110.30,505.40 113.00,521.00 116.00,526.50 120.00,528.00" fill="#2ef02e" stroke="#18e018" stroke-width="0.8"/>
<polygon points="92.00,527.50 100.00,525.00 105.00,523.80 110.40,522.00 118.40,517.50 124.60,510.40 128.20,501.40 131.80,483.60 133.60,465.70 135.40,447.90 136.40,428.00 137.20,400.00 137.80,382.40 138.50,365.00 139.40,350.00 140.00,341.00 140.60,336.50 141.80,336.00 142.40,341.00 143.00,350.00 145.20,365.00 146.10,382.40 146.90,400.00 147.70,420.00 148.60,465.70 150.30,492.50 151.60,510.40 154.00,524.60 156.80,527.50" fill="#5e6aee" stroke="#1212e2" stroke-width="1.8" stroke-linejoin="round"/>
<polyline points="160.00,528.20 161.04,527.87 162.53,527.41 164.14,526.80 165.50,526.00 166.52,525.32 167.38,524.67 168.17,523.44 169.00,521.00 169.90,517.20 170.81,512.38 171.69,506.61 172.50,500.00 173.22,492.23 173.89,483.38 174.51,474.08 175.10,465.00 175.67,456.13 176.20,447.19 176.71,438.40 177.20,430.00 177.67,422.38 178.11,415.31 178.54,408.09 179.00,400.00 179.49,390.23 179.99,379.38 180.50,368.83 181.00,360.00 181.53,353.21 182.08,347.73 182.58,343.39 183.00,340.00 183.27,337.83 183.45,336.86 183.60,336.53 183.80,336.30 184.06,335.99 184.36,335.92 184.67,336.21 185.00,337.00 185.35,338.09 185.73,339.48 186.12,341.63 186.50,345.00 186.86,349.94 187.22,356.12 187.59,363.00 188.00,370.00 188.47,377.38 188.97,385.31 189.50,393.09 190.00,400.00 190.47,406.05 190.91,411.56 191.38,416.29 191.90,420.00 192.48,422.30 193.11,423.44 193.78,424.10 194.50,425.00 195.35,426.14 196.31,427.21 197.21,428.43 197.90,430.00 198.26,431.71 198.40,433.52 198.49,435.98 198.70,439.60 199.04,444.82 199.43,451.26 199.91,458.22 200.50,465.00 201.28,471.69 202.21,478.57 203.16,485.24 204.00,491.30 204.73,496.77 205.41,501.83 206.00,506.29 206.50,510.00 206.81,512.60 206.97,514.29 207.15,515.71 207.50,517.50 208.08,520.04 208.79,522.92 209.58,525.59 210.40,527.50 211.34,528.37 212.38,528.52 213.34,528.37 214.00,528.30" fill="none" stroke="#222" stroke-width="1.3"/>
<polyline points="120.00,521.00 122.63,520.06 126.42,518.71 130.62,517.18 134.50,515.70 137.99,514.20 141.44,512.61 144.75,511.14 147.80,510.00 150.50,509.38 152.93,509.11 155.24,508.92 157.60,508.50 160.06,507.87 162.54,507.16 164.97,506.24 167.30,505.00 169.49,503.28 171.59,501.18 173.64,498.99 175.70,497.00 177.84,495.20 180.00,493.47 182.09,491.91 184.00,490.60 185.71,489.63 187.27,488.93 188.69,488.37 190.00,487.80 191.10,487.30 192.03,486.90 192.93,486.43 194.00,485.70 195.29,484.46 196.70,482.88 198.16,481.40 199.60,480.50 200.98,480.29 202.36,480.52 203.75,481.12 205.20,482.00 206.76,483.62 208.39,485.87 210.01,487.81 211.50,488.50 212.84,487.58 214.08,485.57 215.26,482.94 216.40,480.10 217.52,477.11 218.59,473.76 219.62,470.11 220.60,466.20 221.52,461.85 222.39,457.11 223.24,452.36 224.10,448.00 224.94,444.25 225.77,440.86 226.63,437.54 227.60,434.00 228.68,430.33 229.84,426.63 231.09,422.62 232.40,418.00 233.86,413.06 235.44,407.84 237.00,401.67 238.40,393.90 239.57,383.08 240.59,369.97 241.56,357.29 242.60,347.70 243.74,341.88 244.92,338.41 246.10,336.86 247.20,336.80 248.20,338.88 249.12,343.06 250.04,347.92 251.00,352.00 252.01,355.42 253.05,358.79 254.11,361.39 255.20,362.50 256.34,360.60 257.53,356.51 258.70,353.04 259.80,353.00 260.80,357.48 261.74,364.86 262.63,373.91 263.50,383.40 264.33,393.94 265.11,405.88 265.89,417.57 266.70,427.40 267.45,434.75 268.15,440.55 269.00,445.47 270.20,450.20 271.88,454.63 273.91,458.49 276.09,462.21 278.20,466.20 280.17,470.67 282.13,475.37 284.14,480.01 286.30,484.30 288.48,488.11 290.68,491.60 293.19,494.97 296.30,498.40 300.30,502.14 304.97,506.02 309.83,509.61 314.40,512.50 318.63,514.46 322.74,515.75 326.70,516.67 330.50,517.50 334.37,518.28 338.26,518.86 341.64,519.29 344.00,519.60" fill="none" stroke="#333" stroke-width="1.5" stroke-dasharray="1.4 1.8"/>
<polyline points="196.00,478.00 196.69,477.90 197.67,477.76 198.82,477.62 200.00,477.50 201.26,477.33 202.63,477.11 203.99,477.03 205.20,477.30 206.16,477.96 206.97,478.91 207.77,480.10 208.70,481.50 209.81,483.54 211.02,486.09 212.29,488.28 213.60,489.20 214.98,488.50 216.44,486.70 217.88,484.22 219.20,481.50 220.35,478.30 221.39,474.51 222.38,470.74 223.40,467.60 224.45,465.10 225.51,462.97 226.56,461.40 227.60,460.60 228.63,460.90 229.65,462.09 230.67,463.59 231.70,464.80 232.71,465.91 233.71,467.12 234.75,467.88 235.90,467.60 237.23,465.69 238.70,462.60 240.17,459.36 241.50,457.00 242.62,455.72 243.60,454.99 244.58,454.76 245.70,455.00 247.00,456.08 248.41,457.90 249.87,459.67 251.30,460.60 252.74,460.15 254.19,458.84 255.61,457.51 256.90,457.00 258.03,457.59 259.04,458.83 260.00,460.39 261.00,462.00 262.09,464.02 263.23,466.48 264.30,468.49 265.20,469.20 265.81,468.84 266.23,467.73 266.63,465.09 267.20,460.20 267.94,451.98 268.78,441.13 269.75,429.51 270.90,419.00 272.32,409.01 273.96,398.89 275.64,390.46 277.20,385.50 278.50,386.27 279.67,391.22 280.90,396.44 282.40,398.00 284.37,394.32 286.66,387.68 288.92,379.92 290.80,372.90 292.15,366.76 293.16,360.63 294.05,354.86 295.00,349.80 296.05,345.27 297.10,341.16 298.15,337.98 299.20,336.20 300.28,336.01 301.37,337.12 302.43,339.35 303.40,342.50 304.28,346.58 305.08,351.67 305.82,357.68 306.50,364.50 307.10,372.64 307.61,381.97 308.10,391.46 308.60,400.10 309.11,407.76 309.61,414.93 310.13,421.51 310.70,427.40 311.28,432.43 311.87,436.70 312.55,440.50 313.40,444.10 314.46,447.54 315.69,450.69 317.02,453.57 318.40,456.20 319.80,458.16 321.26,459.57 322.82,461.30 324.50,464.20 326.41,468.92 328.51,474.87 330.60,481.01 332.50,486.30 334.15,490.49 335.66,494.13 337.08,497.38 338.50,500.40 340.04,503.34 341.62,506.08 343.02,508.38 344.00,510.00" fill="none" stroke="#8a8a8a" stroke-width="1.1" stroke-dasharray="2 1.5 1 1.5"/>
<line x1="55.0" y1="527.6" x2="92.0" y2="527.6" stroke="#e01010" stroke-width="1.2" />
<line x1="88.0" y1="527.8" x2="157.0" y2="527.8" stroke="#20a040" stroke-width="1.2" />
<line x1="150.0" y1="527.9" x2="207.0" y2="527.9" stroke="#1414c8" stroke-width="1.6" />
<line x1="207.0" y1="528.0" x2="226.0" y2="528.0" stroke="#222" stroke-width="1.3" />
<rect x="55.0" y="316.6" width="289.4" height="212.0" fill="none" stroke="#6a6a6a" stroke-width="1.6"/>
<line x1="55.0" y1="528.3" x2="58.5" y2="528.3" stroke="#6a6a6a" stroke-width="1.1" />
<line x1="344.4" y1="528.3" x2="340.9" y2="528.3" stroke="#6a6a6a" stroke-width="1.1" />
<line x1="55.0" y1="509.0" x2="57.5" y2="509.0" stroke="#6a6a6a" stroke-width="1.1" />
<line x1="344.4" y1="509.0" x2="341.9" y2="509.0" stroke="#6a6a6a" stroke-width="1.1" />
<line x1="55.0" y1="489.7" x2="58.5" y2="489.7" stroke="#6a6a6a" stroke-width="1.1" />
<line x1="344.4" y1="489.7" x2="340.9" y2="489.7" stroke="#6a6a6a" stroke-width="1.1" />
<line x1="55.0" y1="470.4" x2="57.5" y2="470.4" stroke="#6a6a6a" stroke-width="1.1" />
<line x1="344.4" y1="470.4" x2="341.9" y2="470.4" stroke="#6a6a6a" stroke-width="1.1" />
<line x1="55.0" y1="451.1" x2="58.5" y2="451.1" stroke="#6a6a6a" stroke-width="1.1" />
<line x1="344.4" y1="451.1" x2="340.9" y2="451.1" stroke="#6a6a6a" stroke-width="1.1" />
<line x1="55.0" y1="431.8" x2="57.5" y2="431.8" stroke="#6a6a6a" stroke-width="1.1" />
<line x1="344.4" y1="431.8" x2="341.9" y2="431.8" stroke="#6a6a6a" stroke-width="1.1" />
<line x1="55.0" y1="412.6" x2="58.5" y2="412.6" stroke="#6a6a6a" stroke-width="1.1" />
<line x1="344.4" y1="412.6" x2="340.9" y2="412.6" stroke="#6a6a6a" stroke-width="1.1" />
<line x1="55.0" y1="393.3" x2="57.5" y2="393.3" stroke="#6a6a6a" stroke-width="1.1" />
<line x1="344.4" y1="393.3" x2="341.9" y2="393.3" stroke="#6a6a6a" stroke-width="1.1" />
<line x1="55.0" y1="374.0" x2="58.5" y2="374.0" stroke="#6a6a6a" stroke-width="1.1" />
<line x1="344.4" y1="374.0" x2="340.9" y2="374.0" stroke="#6a6a6a" stroke-width="1.1" />
<line x1="55.0" y1="354.7" x2="57.5" y2="354.7" stroke="#6a6a6a" stroke-width="1.1" />
<line x1="344.4" y1="354.7" x2="341.9" y2="354.7" stroke="#6a6a6a" stroke-width="1.1" />
<line x1="55.0" y1="335.4" x2="58.5" y2="335.4" stroke="#6a6a6a" stroke-width="1.1" />
<line x1="344.4" y1="335.4" x2="340.9" y2="335.4" stroke="#6a6a6a" stroke-width="1.1" />
<line x1="54.8" y1="316.6" x2="54.8" y2="320.1" stroke="#6a6a6a" stroke-width="1.1" />
<line x1="54.8" y1="528.6" x2="54.8" y2="525.1" stroke="#6a6a6a" stroke-width="1.1" />
<line x1="78.8" y1="316.6" x2="78.8" y2="319.1" stroke="#6a6a6a" stroke-width="1.1" />
<line x1="78.8" y1="528.6" x2="78.8" y2="526.1" stroke="#6a6a6a" stroke-width="1.1" />
<line x1="102.9" y1="316.6" x2="102.9" y2="320.1" stroke="#6a6a6a" stroke-width="1.1" />
<line x1="102.9" y1="528.6" x2="102.9" y2="525.1" stroke="#6a6a6a" stroke-width="1.1" />
<line x1="127.0" y1="316.6" x2="127.0" y2="319.1" stroke="#6a6a6a" stroke-width="1.1" />
<line x1="127.0" y1="528.6" x2="127.0" y2="526.1" stroke="#6a6a6a" stroke-width="1.1" />
<line x1="151.0" y1="316.6" x2="151.0" y2="320.1" stroke="#6a6a6a" stroke-width="1.1" />
<line x1="151.0" y1="528.6" x2="151.0" y2="525.1" stroke="#6a6a6a" stroke-width="1.1" />
<line x1="175.1" y1="316.6" x2="175.1" y2="319.1" stroke="#6a6a6a" stroke-width="1.1" />
<line x1="175.1" y1="528.6" x2="175.1" y2="526.1" stroke="#6a6a6a" stroke-width="1.1" />
<line x1="199.1" y1="316.6" x2="199.1" y2="320.1" stroke="#6a6a6a" stroke-width="1.1" />
<line x1="199.1" y1="528.6" x2="199.1" y2="525.1" stroke="#6a6a6a" stroke-width="1.1" />
<line x1="223.1" y1="316.6" x2="223.1" y2="319.1" stroke="#6a6a6a" stroke-width="1.1" />
<line x1="223.1" y1="528.6" x2="223.1" y2="526.1" stroke="#6a6a6a" stroke-width="1.1" />
<line x1="247.2" y1="316.6" x2="247.2" y2="320.1" stroke="#6a6a6a" stroke-width="1.1" />
<line x1="247.2" y1="528.6" x2="247.2" y2="525.1" stroke="#6a6a6a" stroke-width="1.1" />
<line x1="271.2" y1="316.6" x2="271.2" y2="319.1" stroke="#6a6a6a" stroke-width="1.1" />
<line x1="271.2" y1="528.6" x2="271.2" y2="526.1" stroke="#6a6a6a" stroke-width="1.1" />
<line x1="295.3" y1="316.6" x2="295.3" y2="320.1" stroke="#6a6a6a" stroke-width="1.1" />
<line x1="295.3" y1="528.6" x2="295.3" y2="525.1" stroke="#6a6a6a" stroke-width="1.1" />
<line x1="319.4" y1="316.6" x2="319.4" y2="319.1" stroke="#6a6a6a" stroke-width="1.1" />
<line x1="319.4" y1="528.6" x2="319.4" y2="526.1" stroke="#6a6a6a" stroke-width="1.1" />
<line x1="343.4" y1="316.6" x2="343.4" y2="320.1" stroke="#6a6a6a" stroke-width="1.1" />
<line x1="343.4" y1="528.6" x2="343.4" y2="525.1" stroke="#6a6a6a" stroke-width="1.1" />
<text x="50.5" y="532.9" font-size="14" fill="#5a5a5a" text-anchor="end" font-weight="normal" font-style="normal" textLength="17.2" lengthAdjust="spacingAndGlyphs" >0.0</text>
<text x="50.5" y="494.32" font-size="14" fill="#5a5a5a" text-anchor="end" font-weight="normal" font-style="normal" textLength="17.2" lengthAdjust="spacingAndGlyphs" >0.2</text>
<text x="50.5" y="455.73999999999995" font-size="14" fill="#5a5a5a" text-anchor="end" font-weight="normal" font-style="normal" textLength="17.2" lengthAdjust="spacingAndGlyphs" >0.4</text>
<text x="50.5" y="417.15999999999997" font-size="14" fill="#5a5a5a" text-anchor="end" font-weight="normal" font-style="normal" textLength="17.2" lengthAdjust="spacingAndGlyphs" >0.6</text>
<text x="50.5" y="378.5799999999999" font-size="14" fill="#5a5a5a" text-anchor="end" font-weight="normal" font-style="normal" textLength="17.2" lengthAdjust="spacingAndGlyphs" >0.8</text>
<text x="50.5" y="340.0" font-size="14" fill="#5a5a5a" text-anchor="end" font-weight="normal" font-style="normal" textLength="17.2" lengthAdjust="spacingAndGlyphs" >1.0</text>
<text x="54.8" y="543.5" font-size="13.5" fill="#5a5a5a" text-anchor="middle" font-weight="normal" font-style="normal" textLength="18" lengthAdjust="spacingAndGlyphs" >0.0</text>
<text x="102.9" y="543.5" font-size="13.5" fill="#5a5a5a" text-anchor="middle" font-weight="normal" font-style="normal" textLength="18" lengthAdjust="spacingAndGlyphs" >0.5</text>
<text x="151.0" y="543.5" font-size="13.5" fill="#5a5a5a" text-anchor="middle" font-weight="normal" font-style="normal" textLength="18" lengthAdjust="spacingAndGlyphs" >1.0</text>
<text x="199.10000000000002" y="543.5" font-size="13.5" fill="#5a5a5a" text-anchor="middle" font-weight="normal" font-style="normal" textLength="18" lengthAdjust="spacingAndGlyphs" >1.5</text>
<text x="247.2" y="543.5" font-size="13.5" fill="#5a5a5a" text-anchor="middle" font-weight="normal" font-style="normal" textLength="18" lengthAdjust="spacingAndGlyphs" >2.0</text>
<text x="295.3" y="543.5" font-size="13.5" fill="#5a5a5a" text-anchor="middle" font-weight="normal" font-style="normal" textLength="18" lengthAdjust="spacingAndGlyphs" >2.5</text>
<text x="343.40000000000003" y="543.5" font-size="13.5" fill="#5a5a5a" text-anchor="middle" font-weight="normal" font-style="normal" textLength="18" lengthAdjust="spacingAndGlyphs" >3.0</text>
<text transform="translate(23.3,485.21) rotate(-90)" font-size="15" fill="#111" font-weight="bold" font-style="italic" textLength="14.26" lengthAdjust="spacingAndGlyphs" >W</text>
<text transform="translate(29.6,470.05) rotate(-90)" font-size="10" fill="#111" font-weight="normal" font-style="italic" textLength="31.35" lengthAdjust="spacingAndGlyphs" style="font-family:'Liberation Serif',serif">bunch</text>
<text transform="translate(23.3,434.30) rotate(-90)" font-size="15.5" fill="#111" font-weight="normal" font-style="normal" textLength="53.64" lengthAdjust="spacingAndGlyphs" >/ norm.</text>
<rect x="469.5" y="9.5" width="210.5" height="317.3" fill="none" stroke="#333" stroke-width="1.5"/>
<line x1="680.0" y1="10.3" x2="680.0" y2="326.0" stroke="#707070" stroke-width="1.6" />
<line x1="469.5" y1="21.6" x2="474.0" y2="21.6" stroke="#333" stroke-width="1.1" />
<line x1="680.0" y1="21.6" x2="675.5" y2="21.6" stroke="#333" stroke-width="1.1" />
<line x1="469.5" y1="33.8" x2="471.7" y2="33.8" stroke="#333" stroke-width="1.1" />
<line x1="680.0" y1="33.8" x2="677.8" y2="33.8" stroke="#333" stroke-width="1.1" />
<line x1="469.5" y1="46.0" x2="474.0" y2="46.0" stroke="#333" stroke-width="1.1" />
<line x1="680.0" y1="46.0" x2="675.5" y2="46.0" stroke="#333" stroke-width="1.1" />
<line x1="469.5" y1="58.3" x2="471.7" y2="58.3" stroke="#333" stroke-width="1.1" />
<line x1="680.0" y1="58.3" x2="677.8" y2="58.3" stroke="#333" stroke-width="1.1" />
<line x1="469.5" y1="70.5" x2="474.0" y2="70.5" stroke="#333" stroke-width="1.1" />
<line x1="680.0" y1="70.5" x2="675.5" y2="70.5" stroke="#333" stroke-width="1.1" />
<line x1="469.5" y1="82.7" x2="471.7" y2="82.7" stroke="#333" stroke-width="1.1" />
<line x1="680.0" y1="82.7" x2="677.8" y2="82.7" stroke="#333" stroke-width="1.1" />
<line x1="469.5" y1="94.9" x2="474.0" y2="94.9" stroke="#333" stroke-width="1.1" />
<line x1="680.0" y1="94.9" x2="675.5" y2="94.9" stroke="#333" stroke-width="1.1" />
<line x1="469.5" y1="107.1" x2="471.7" y2="107.1" stroke="#333" stroke-width="1.1" />
<line x1="680.0" y1="107.1" x2="677.8" y2="107.1" stroke="#333" stroke-width="1.1" />
<line x1="469.5" y1="119.4" x2="474.0" y2="119.4" stroke="#333" stroke-width="1.1" />
<line x1="680.0" y1="119.4" x2="675.5" y2="119.4" stroke="#333" stroke-width="1.1" />
<line x1="469.5" y1="131.6" x2="471.7" y2="131.6" stroke="#333" stroke-width="1.1" />
<line x1="680.0" y1="131.6" x2="677.8" y2="131.6" stroke="#333" stroke-width="1.1" />
<line x1="469.5" y1="143.8" x2="474.0" y2="143.8" stroke="#333" stroke-width="1.1" />
<line x1="680.0" y1="143.8" x2="675.5" y2="143.8" stroke="#333" stroke-width="1.1" />
<line x1="469.5" y1="156.0" x2="471.7" y2="156.0" stroke="#333" stroke-width="1.1" />
<line x1="680.0" y1="156.0" x2="677.8" y2="156.0" stroke="#333" stroke-width="1.1" />
<line x1="469.5" y1="168.2" x2="474.0" y2="168.2" stroke="#333" stroke-width="1.1" />
<line x1="680.0" y1="168.2" x2="675.5" y2="168.2" stroke="#333" stroke-width="1.1" />
<line x1="469.5" y1="180.5" x2="471.7" y2="180.5" stroke="#333" stroke-width="1.1" />
<line x1="680.0" y1="180.5" x2="677.8" y2="180.5" stroke="#333" stroke-width="1.1" />
<line x1="469.5" y1="192.7" x2="474.0" y2="192.7" stroke="#333" stroke-width="1.1" />
<line x1="680.0" y1="192.7" x2="675.5" y2="192.7" stroke="#333" stroke-width="1.1" />
<line x1="469.5" y1="204.9" x2="471.7" y2="204.9" stroke="#333" stroke-width="1.1" />
<line x1="680.0" y1="204.9" x2="677.8" y2="204.9" stroke="#333" stroke-width="1.1" />
<line x1="469.5" y1="217.1" x2="474.0" y2="217.1" stroke="#333" stroke-width="1.1" />
<line x1="680.0" y1="217.1" x2="675.5" y2="217.1" stroke="#333" stroke-width="1.1" />
<line x1="469.5" y1="229.3" x2="471.7" y2="229.3" stroke="#333" stroke-width="1.1" />
<line x1="680.0" y1="229.3" x2="677.8" y2="229.3" stroke="#333" stroke-width="1.1" />
<line x1="469.5" y1="241.6" x2="474.0" y2="241.6" stroke="#333" stroke-width="1.1" />
<line x1="680.0" y1="241.6" x2="675.5" y2="241.6" stroke="#333" stroke-width="1.1" />
<line x1="469.5" y1="253.8" x2="471.7" y2="253.8" stroke="#333" stroke-width="1.1" />
<line x1="680.0" y1="253.8" x2="677.8" y2="253.8" stroke="#333" stroke-width="1.1" />
<line x1="469.5" y1="266.0" x2="474.0" y2="266.0" stroke="#333" stroke-width="1.1" />
<line x1="680.0" y1="266.0" x2="675.5" y2="266.0" stroke="#333" stroke-width="1.1" />
<line x1="469.5" y1="278.2" x2="471.7" y2="278.2" stroke="#333" stroke-width="1.1" />
<line x1="680.0" y1="278.2" x2="677.8" y2="278.2" stroke="#333" stroke-width="1.1" />
<line x1="469.5" y1="290.4" x2="474.0" y2="290.4" stroke="#333" stroke-width="1.1" />
<line x1="680.0" y1="290.4" x2="675.5" y2="290.4" stroke="#333" stroke-width="1.1" />
<line x1="469.5" y1="302.7" x2="471.7" y2="302.7" stroke="#333" stroke-width="1.1" />
<line x1="680.0" y1="302.7" x2="677.8" y2="302.7" stroke="#333" stroke-width="1.1" />
<line x1="469.5" y1="314.9" x2="474.0" y2="314.9" stroke="#333" stroke-width="1.1" />
<line x1="680.0" y1="314.9" x2="675.5" y2="314.9" stroke="#333" stroke-width="1.1" />
<line x1="471.4" y1="9.5" x2="471.4" y2="11.9" stroke="#333" stroke-width="1.1" />
<line x1="471.4" y1="326.8" x2="471.4" y2="324.4" stroke="#333" stroke-width="1.1" />
<line x1="492.2" y1="9.5" x2="492.2" y2="14.3" stroke="#333" stroke-width="1.1" />
<line x1="492.2" y1="326.8" x2="492.2" y2="322.0" stroke="#333" stroke-width="1.1" />
<line x1="513.1" y1="9.5" x2="513.1" y2="11.9" stroke="#333" stroke-width="1.1" />
<line x1="513.1" y1="326.8" x2="513.1" y2="324.4" stroke="#333" stroke-width="1.1" />
<line x1="533.9" y1="9.5" x2="533.9" y2="14.3" stroke="#333" stroke-width="1.1" />
<line x1="533.9" y1="326.8" x2="533.9" y2="322.0" stroke="#333" stroke-width="1.1" />
<line x1="554.8" y1="9.5" x2="554.8" y2="11.9" stroke="#333" stroke-width="1.1" />
<line x1="554.8" y1="326.8" x2="554.8" y2="324.4" stroke="#333" stroke-width="1.1" />
<line x1="575.6" y1="9.5" x2="575.6" y2="14.3" stroke="#333" stroke-width="1.1" />
<line x1="575.6" y1="326.8" x2="575.6" y2="322.0" stroke="#333" stroke-width="1.1" />
<line x1="596.5" y1="9.5" x2="596.5" y2="11.9" stroke="#333" stroke-width="1.1" />
<line x1="596.5" y1="326.8" x2="596.5" y2="324.4" stroke="#333" stroke-width="1.1" />
<line x1="617.3" y1="9.5" x2="617.3" y2="14.3" stroke="#333" stroke-width="1.1" />
<line x1="617.3" y1="326.8" x2="617.3" y2="322.0" stroke="#333" stroke-width="1.1" />
<line x1="638.1" y1="9.5" x2="638.1" y2="11.9" stroke="#333" stroke-width="1.1" />
<line x1="638.1" y1="326.8" x2="638.1" y2="324.4" stroke="#333" stroke-width="1.1" />
<line x1="659.0" y1="9.5" x2="659.0" y2="14.3" stroke="#333" stroke-width="1.1" />
<line x1="659.0" y1="326.8" x2="659.0" y2="322.0" stroke="#333" stroke-width="1.1" />
<text x="490.2" y="342" font-size="12.2" fill="#333" text-anchor="middle" font-weight="normal" font-style="normal" textLength="20" lengthAdjust="spacingAndGlyphs" >-40</text>
<text x="532" y="342" font-size="12.2" fill="#333" text-anchor="middle" font-weight="normal" font-style="normal" textLength="20" lengthAdjust="spacingAndGlyphs" >-20</text>
<text x="574.4" y="342" font-size="12.2" fill="#333" text-anchor="middle" font-weight="normal" font-style="normal" textLength="7.3" lengthAdjust="spacingAndGlyphs" >0</text>
<text x="616.5" y="342" font-size="12.2" fill="#333" text-anchor="middle" font-weight="normal" font-style="normal" textLength="14.5" lengthAdjust="spacingAndGlyphs" >20</text>
<text x="658.2" y="342" font-size="12.2" fill="#333" text-anchor="middle" font-weight="normal" font-style="normal" textLength="14.5" lengthAdjust="spacingAndGlyphs" >40</text>
<polyline points="469.70,66.90 470.18,66.88 470.66,66.83 471.14,66.76 471.62,66.66 472.10,66.55 472.58,66.44 473.06,66.34 473.54,66.27 474.02,66.22 474.50,66.20 475.01,66.29 475.52,66.54 476.03,66.94 476.54,67.44 477.05,68.00 477.56,68.56 478.07,69.06 478.58,69.46 479.09,69.71 479.60,69.80 480.30,69.63 481.00,69.13 481.70,68.36 482.40,67.38 483.10,66.30 483.80,65.22 484.50,64.24 485.20,63.47 485.90,62.97 486.60,62.80 487.24,63.07 487.88,63.86 488.52,65.09 489.16,66.63 489.80,68.35 490.44,70.07 491.08,71.61 491.72,72.84 492.36,73.63 493.00,73.90 493.70,73.50 494.40,72.33 495.10,70.52 495.80,68.23 496.50,65.70 497.20,63.17 497.90,60.88 498.60,59.07 499.30,57.90 500.00,57.50 500.70,58.07 501.40,59.73 502.10,62.32 502.80,65.58 503.50,69.20 504.20,72.82 504.90,76.08 505.60,78.67 506.30,80.33 507.00,80.90 507.70,80.16 508.40,78.00 509.10,74.63 509.80,70.40 510.50,65.70 511.20,61.00 511.90,56.77 512.60,53.40 513.30,51.24 514.00,50.50 514.70,51.44 515.40,54.18 516.10,58.44 516.80,63.80 517.50,69.75 518.20,75.70 518.90,81.06 519.60,85.32 520.30,88.06 521.00,89.00 521.71,87.86 522.42,84.54 523.13,79.37 523.84,72.87 524.55,65.65 525.26,58.43 525.97,51.93 526.68,46.76 527.39,43.44 528.10,42.30 528.79,43.64 529.48,47.52 530.17,53.57 530.86,61.20 531.55,69.65 532.24,78.10 532.93,85.73 533.62,91.78 534.31,95.66 535.00,97.00 535.71,95.46 536.42,90.98 537.13,84.02 537.84,75.23 538.55,65.50 539.26,55.77 539.97,46.98 540.68,40.02 541.39,35.54 542.10,34.00 542.81,35.72 543.52,40.70 544.23,48.47 544.94,58.25 545.65,69.10 546.36,79.95 547.07,89.73 547.78,97.50 548.49,102.48 549.20,104.20 549.93,102.29 550.66,96.76 551.39,88.14 552.12,77.29 552.85,65.25 553.58,53.21 554.31,42.36 555.04,33.74 555.77,28.21 556.50,26.30 557.23,28.35 557.96,34.29 558.69,43.55 559.42,55.22 560.15,68.15 560.88,81.08 561.61,92.75 562.34,102.01 563.07,107.95 563.80,110.00 564.52,107.86 565.24,101.64 565.96,91.97 566.68,79.77 567.40,66.25 568.12,52.73 568.84,40.53 569.56,30.86 570.28,24.64 571.00,22.50 571.70,24.67 572.40,30.95 573.10,40.74 573.80,53.08 574.50,66.75 575.20,80.42 575.90,92.76 576.60,102.55 577.30,108.83 578.00,111.00 578.74,108.86 579.48,102.64 580.22,92.97 580.96,80.77 581.70,67.25 582.44,53.73 583.18,41.53 583.92,31.86 584.66,25.64 585.40,23.50 586.13,25.50 586.86,31.30 587.59,40.34 588.32,51.73 589.05,64.35 589.78,76.97 590.51,88.36 591.24,97.40 591.97,103.20 592.70,105.20 593.35,103.41 594.00,98.22 594.65,90.13 595.30,79.94 595.95,68.65 596.60,57.36 597.25,47.17 597.90,39.08 598.55,33.89 599.20,32.10 599.97,33.65 600.74,38.16 601.51,45.19 602.28,54.04 603.05,63.85 603.82,73.66 604.59,82.51 605.36,89.54 606.13,94.05 606.90,95.60 607.61,94.35 608.32,90.72 609.03,85.07 609.74,77.95 610.45,70.05 611.16,62.15 611.87,55.03 612.58,49.38 613.29,45.75 614.00,44.50 614.64,45.45 615.28,48.21 615.92,52.50 616.56,57.91 617.20,63.90 617.84,69.89 618.48,75.30 619.12,79.59 619.76,82.35 620.40,83.30 621.01,82.53 621.62,80.31 622.23,76.85 622.84,72.49 623.45,67.65 624.06,62.81 624.67,58.45 625.28,54.99 625.89,52.77 626.50,52.00 627.15,52.63 627.80,54.46 628.45,57.32 629.10,60.91 629.75,64.90 630.40,68.89 631.05,72.48 631.70,75.34 632.35,77.17 633.00,77.80 633.64,77.30 634.28,75.86 634.92,73.62 635.56,70.79 636.20,67.65 636.84,64.51 637.48,61.68 638.12,59.44 638.76,58.00 639.40,57.50 640.07,57.90 640.74,59.08 641.41,60.90 642.08,63.20 642.75,65.75 643.42,68.30 644.09,70.60 644.76,72.42 645.43,73.60 646.10,74.00 646.85,73.65 647.60,72.63 648.35,71.05 649.10,69.06 649.85,66.85 650.60,64.64 651.35,62.65 652.10,61.07 652.85,60.05 653.60,59.70 654.28,60.00 654.96,60.86 655.64,62.19 656.32,63.88 657.00,65.75 657.68,67.62 658.36,69.31 659.04,70.64 659.72,71.50 660.40,71.80 661.11,71.58 661.82,70.96 662.53,69.99 663.24,68.76 663.95,67.40 664.66,66.04 665.37,64.81 666.08,63.84 666.79,63.22 667.50,63.00 668.15,63.13 668.80,63.53 669.45,64.13 670.10,64.90 670.75,65.75 671.40,66.60 672.05,67.37 672.70,67.97 673.35,68.37 674.00,68.50 674.55,68.51 675.10,68.55 675.65,68.60 676.20,68.67 676.75,68.75 677.30,68.83 677.85,68.90 678.40,68.95 678.95,68.99 679.50,69.00" fill="none" stroke="#ee1212" stroke-width="2.5" stroke-linejoin="round"/>
<line x1="490.4" y1="96.4" x2="490.4" y2="144.2" stroke="#111" stroke-width="1.6" />
<line x1="487.2" y1="96.4" x2="493.5" y2="96.4" stroke="#111" stroke-width="1.6" />
<line x1="487.2" y1="144.2" x2="493.5" y2="144.2" stroke="#111" stroke-width="1.6" />
<polyline points="531.70,167.34 531.90,167.33 532.10,167.32 532.30,167.30 532.50,167.29 532.70,167.27 532.90,167.26 533.10,167.24 533.30,167.23 533.50,167.23 533.70,167.23 533.90,167.24 534.10,167.26 534.30,167.28 534.50,167.31 534.70,167.34 534.90,167.36 535.10,167.39 535.30,167.40 535.50,167.41 535.70,167.41 535.90,167.40 536.10,167.38 536.30,167.35 536.50,167.30 536.70,167.26 536.90,167.21 537.10,167.17 537.30,167.14 537.50,167.11 537.70,167.11 537.90,167.12 538.10,167.15 538.30,167.20 538.50,167.26 538.70,167.34 538.90,167.42 539.10,167.49 539.30,167.56 539.50,167.61 539.70,167.63 539.90,167.62 540.10,167.58 540.30,167.51 540.50,167.41 540.70,167.29 540.90,167.15 541.10,167.02 541.30,166.90 541.50,166.80 541.70,166.75 541.90,166.74 542.10,166.79 542.30,166.89 542.50,167.04 542.70,167.24 542.90,167.46 543.10,167.69 543.30,167.90 543.50,168.08 543.70,168.20 543.90,168.25 544.10,168.20 544.30,168.07 544.50,167.84 544.70,167.54 544.90,167.19 545.10,166.81 545.30,166.44 545.50,166.12 545.70,165.88 545.90,165.76 546.10,165.78 546.30,165.94 546.50,166.25 546.70,166.70 546.90,167.24 547.10,167.84 547.30,168.45 547.50,169.00 547.70,169.43 547.90,169.70 548.10,169.76 548.30,169.59 548.50,169.18 548.70,168.55 548.90,167.75 549.10,166.83 549.30,165.88 549.50,164.98 549.70,164.23 549.90,163.71 550.10,163.49 550.30,163.62 550.50,164.11 550.70,164.96 550.90,166.09 551.10,167.44 551.30,168.88 551.50,170.29 551.70,171.52 551.90,172.44 552.10,172.94 552.30,172.94 552.50,172.40 552.70,171.34 552.90,169.80 553.10,167.91 553.30,165.83 553.50,163.73 553.70,161.82 553.90,160.29 554.10,159.32 554.30,159.05 554.50,159.54 554.70,160.80 554.90,162.77 555.10,165.30 555.30,168.19 555.50,171.19 555.70,174.02 555.90,176.40 556.10,178.07 556.30,178.82 556.50,178.53 556.70,177.16 556.90,174.78 557.10,171.54 557.30,167.70 557.50,163.60 557.70,159.61 557.90,156.10 558.10,153.45 558.30,151.95 558.50,151.82 558.70,153.13 558.90,155.85 559.10,159.79 559.30,164.65 559.50,170.02 559.70,175.41 559.90,180.32 560.10,184.26 560.30,186.80 560.50,187.65 560.70,186.63 560.90,183.75 561.10,179.20 561.30,173.32 561.50,166.61 561.70,159.65 561.90,153.10 562.10,147.59 562.30,143.67 562.50,141.79 562.70,142.21 562.90,144.98 563.10,149.95 563.30,156.72 563.50,164.75 563.70,173.33 563.90,181.67 564.10,188.99 564.30,194.56 564.50,197.80 564.70,198.33 564.90,196.00 565.10,190.93 565.30,183.50 565.50,174.33 565.70,164.22 565.90,154.07 566.10,144.84 566.30,137.41 566.50,132.52 566.70,130.71 566.90,132.22 567.10,137.01 567.30,144.72 567.50,154.72 567.70,166.12 567.90,177.91 568.10,189.01 568.30,198.37 568.50,205.08 568.70,208.46 568.90,208.13 569.10,204.04 569.30,196.49 569.50,186.12 569.70,173.83 569.90,160.72 570.10,147.98 570.30,136.81 570.50,128.25 570.70,123.14 570.90,122.00 571.10,124.99 571.30,131.89 571.50,142.12 571.70,154.77 571.90,168.72 572.10,182.68 572.30,195.38 572.50,205.63 572.70,212.47 572.90,215.25 573.10,213.67 573.30,207.86 573.50,198.31 573.70,185.88 573.90,171.70 574.10,157.06 574.30,143.30 574.50,131.69 574.70,123.28 574.90,118.87 575.10,118.08 575.30,122.57 575.50,131.11 575.70,142.92 575.90,156.90 576.10,171.78 576.30,186.18 576.50,198.81 576.70,208.51 576.90,214.41 577.10,216.01 577.30,213.19 577.50,206.24 577.70,195.82 577.90,182.92 578.10,168.74 578.30,154.58 578.50,141.72 578.70,131.33 578.90,124.32 579.10,121.28 579.30,122.44 579.50,127.63 579.70,136.32 579.90,147.67 580.10,160.61 580.30,173.93 580.50,186.42 580.70,196.97 580.90,204.64 581.10,208.80 581.30,209.14 581.50,205.70 581.70,198.88 581.90,189.37 582.10,178.09 582.30,166.10 582.50,154.50 582.70,144.34 582.90,136.49 583.10,131.62 583.30,130.07 583.50,131.92 583.70,136.89 583.90,144.45 584.10,153.84 584.30,164.16 584.50,174.46 584.70,183.80 584.90,191.37 585.10,196.54 585.30,198.92 585.50,198.38 585.70,195.08 585.90,189.41 586.10,181.95 586.30,173.45 586.50,164.70 586.70,156.51 586.90,149.59 587.10,144.52 587.30,141.68 587.50,141.25 587.70,143.16 587.90,147.15 588.10,152.79 588.30,159.48 588.50,166.59 588.70,173.46 588.90,179.48 589.10,184.15 589.30,187.10 589.50,188.15 589.70,187.29 589.90,184.69 590.10,180.66 590.30,175.62 590.50,170.09 590.70,164.58 590.90,159.58 591.10,155.52 591.30,152.72 591.50,151.36 591.70,151.49 591.90,153.03 592.10,155.75 592.30,159.36 592.50,163.48 592.70,167.72 592.90,171.68 593.10,175.04 593.30,177.51 593.50,178.94 593.70,179.25 593.90,178.47 594.10,176.75 594.30,174.29 594.50,171.35 594.70,168.23 594.90,165.21 595.10,162.57 595.30,160.51 595.50,159.18 595.70,158.66 595.90,158.94 596.10,159.94 596.30,161.54 596.50,163.54 596.70,165.75 596.90,167.95 597.10,169.94 597.30,171.57 597.50,172.71 597.70,173.29 597.90,173.30 598.10,172.77 598.30,171.80 598.50,170.49 598.70,168.99 598.90,167.45 599.10,166.00 599.30,164.78 599.50,163.86 599.70,163.31 599.90,163.16 600.10,163.39 600.30,163.95 600.50,164.76 600.70,165.74 600.90,166.78 601.10,167.80 601.30,168.69 601.50,169.39 601.70,169.85 601.90,170.05 602.10,170.00 602.30,169.70 602.50,169.22 602.70,168.60 602.90,167.92 603.10,167.23 603.30,166.61 603.50,166.09 603.70,165.72 603.90,165.52 604.10,165.49 604.30,165.63 604.50,165.90 604.70,166.28 604.90,166.71 605.10,167.17 605.30,167.60 605.50,167.97 605.70,168.25 605.90,168.43 606.10,168.49 606.30,168.44 606.50,168.30 606.70,168.07 606.90,167.80 607.10,167.51 607.30,167.21 607.50,166.95 607.70,166.74 607.90,166.60 608.10,166.52 608.30,166.53 608.50,166.60 608.70,166.72 608.90,166.89 609.10,167.08 609.30,167.28 609.50,167.47 609.70,167.62 609.90,167.74 610.10,167.81 610.30,167.83 610.50,167.80 610.70,167.73 610.90,167.63 611.10,167.50 611.30,167.37 611.50,167.23 611.70,167.12 611.90,167.02 612.10,166.96 612.30,166.93 612.50,166.93 612.70,166.97 612.90,167.03 613.10,167.12 613.30,167.21 613.50,167.31 613.70,167.40 613.90,167.48 614.10,167.53 614.30,167.57 614.50,167.58 614.70,167.56 614.90,167.52 615.10,167.46 615.30,167.40 615.50,167.32 615.70,167.25 615.90,167.19 616.10,167.13 616.30,167.10 616.50,167.08 616.70,167.09 616.90,167.11 617.10,167.15 617.30,167.20 617.50,167.26 617.70,167.32 617.90,167.37 618.10,167.42 618.30,167.45 618.50,167.47 618.70,167.48 618.90,167.46 619.10,167.44 619.30,167.40 619.50,167.35 619.70,167.30 619.90,167.26 620.10,167.21" fill="none" stroke="#1cf01c" stroke-width="2.5"/>
<polygon points="540.00,167.15 540.50,167.13 541.00,167.11 541.50,167.08 542.00,167.05 542.50,167.02 543.00,166.98 543.50,166.94 544.00,166.89 544.50,166.84 545.00,166.78 545.50,166.71 546.00,166.64 546.50,166.56 547.00,166.47 547.50,166.37 548.00,166.26 548.50,166.15 549.00,166.02 549.50,165.88 550.00,165.72 550.50,165.56 551.00,165.38 551.50,165.18 552.00,164.97 552.50,164.75 553.00,164.50 553.50,164.25 554.00,163.97 554.50,163.67 555.00,163.36 555.50,163.03 556.00,162.68 556.50,162.31 557.00,161.92 557.50,161.52 558.00,161.09 558.50,160.65 559.00,160.19 559.50,159.71 560.00,159.22 560.50,158.72 561.00,158.20 561.50,157.67 562.00,157.13 562.50,156.58 563.00,156.03 563.50,155.47 564.00,154.90 564.50,154.34 565.00,153.78 565.50,153.23 566.00,152.68 566.50,152.14 567.00,151.61 567.50,151.10 568.00,150.60 568.50,150.13 569.00,149.67 569.50,149.24 570.00,148.84 570.50,148.47 571.00,148.13 571.50,147.82 572.00,147.55 572.50,147.31 573.00,147.11 573.50,146.96 574.00,146.84 574.50,146.76 575.00,146.72 575.50,146.43 576.00,146.51 576.50,146.63 577.00,146.79 577.50,147.00 578.00,147.24 578.50,147.51 579.00,147.82 579.50,148.17 580.00,148.55 580.50,148.95 581.00,149.38 581.50,149.84 582.00,150.32 582.50,150.82 583.00,151.34 583.50,151.87 584.00,152.42 584.50,152.97 585.00,153.53 585.50,154.10 586.00,154.66 586.50,155.23 587.00,155.79 587.50,156.35 588.00,156.91 588.50,157.45 589.00,157.98 589.50,158.51 590.00,159.02 590.50,159.51 591.00,159.99 591.50,160.45 592.00,160.90 592.50,161.33 593.00,161.74 593.50,162.13 594.00,162.50 594.50,162.86 595.00,163.19 595.50,163.51 596.00,163.81 596.50,164.09 597.00,164.35 597.50,164.59 598.00,164.82 598.50,165.04 599.00,165.24 599.50,165.42 600.00,165.59 600.50,165.74 601.00,165.89 601.50,166.02 602.00,166.14 602.50,166.25 603.00,166.35 603.50,166.44 604.00,166.52 604.50,166.60 605.00,166.67 605.50,166.73 606.00,166.78 606.50,166.83 607.00,166.88 607.50,166.92 608.00,166.96 608.50,166.99 609.00,167.02 609.50,167.04 610.00,167.06 610.50,167.08 611.00,167.10 611.50,167.12 612.00,167.13 612.00,167.47 611.50,167.48 611.00,167.50 610.50,167.52 610.00,167.54 609.50,167.56 609.00,167.58 608.50,167.61 608.00,167.64 607.50,167.68 607.00,167.72 606.50,167.77 606.00,167.82 605.50,167.87 605.00,167.93 604.50,168.00 604.00,168.08 603.50,168.16 603.00,168.25 602.50,168.35 602.00,168.46 601.50,168.58 601.00,168.71 600.50,168.86 600.00,169.01 599.50,169.18 599.00,169.36 598.50,169.56 598.00,169.78 597.50,170.01 597.00,170.25 596.50,170.51 596.00,170.79 595.50,171.09 595.00,171.41 594.50,171.74 594.00,172.10 593.50,172.47 593.00,172.86 592.50,173.27 592.00,173.70 591.50,174.15 591.00,174.61 590.50,175.09 590.00,175.58 589.50,176.09 589.00,176.62 588.50,177.15 588.00,177.69 587.50,178.25 587.00,178.81 586.50,179.37 586.00,179.94 585.50,180.50 585.00,181.07 584.50,181.63 584.00,182.18 583.50,182.73 583.00,183.26 582.50,183.78 582.00,184.28 581.50,184.76 581.00,185.22 580.50,185.65 580.00,186.05 579.50,186.43 579.00,186.78 578.50,187.09 578.00,187.36 577.50,187.60 577.00,187.81 576.50,187.97 576.00,188.09 575.50,188.17 575.00,187.88 574.50,187.84 574.00,187.76 573.50,187.64 573.00,187.49 572.50,187.29 572.00,187.05 571.50,186.78 571.00,186.47 570.50,186.13 570.00,185.76 569.50,185.36 569.00,184.93 568.50,184.47 568.00,184.00 567.50,183.50 567.00,182.99 566.50,182.46 566.00,181.92 565.50,181.37 565.00,180.82 564.50,180.26 564.00,179.70 563.50,179.13 563.00,178.57 562.50,178.02 562.00,177.47 561.50,176.93 561.00,176.40 560.50,175.88 560.00,175.38 559.50,174.89 559.00,174.41 558.50,173.95 558.00,173.51 557.50,173.08 557.00,172.68 556.50,172.29 556.00,171.92 555.50,171.57 555.00,171.24 554.50,170.93 554.00,170.63 553.50,170.35 553.00,170.10 552.50,169.85 552.00,169.63 551.50,169.42 551.00,169.22 550.50,169.04 550.00,168.88 549.50,168.72 549.00,168.58 548.50,168.45 548.00,168.34 547.50,168.23 547.00,168.13 546.50,168.04 546.00,167.96 545.50,167.89 545.00,167.82 544.50,167.76 544.00,167.71 543.50,167.66 543.00,167.62 542.50,167.58 542.00,167.55 541.50,167.52 541.00,167.49 540.50,167.47 540.00,167.45" fill="#1cf01c"/>
<polygon points="552.80,275.60 558.00,274.20 563.00,273.60 565.10,271.00 566.50,267.30 567.90,263.00 569.80,259.70 570.50,254.00 571.70,250.30 572.20,245.00 573.00,241.80 573.00,225.80 576.00,225.80 576.30,241.80 578.30,245.00 579.00,250.30 580.20,255.00 581.50,259.70 583.00,263.00 585.50,267.30 586.80,271.00 589.00,273.30 593.00,274.00 597.20,275.40 597.20,276.00 592.00,276.80 588.00,277.50 586.80,278.50 584.00,280.50 583.00,284.00 581.10,286.20 580.50,290.00 579.20,293.70 578.80,298.00 577.40,301.20 577.00,306.00 576.40,310.70 576.20,318.00 575.50,324.80 573.20,324.80 572.60,318.00 572.60,310.70 571.70,306.00 570.50,301.20 569.80,298.00 568.90,293.70 568.00,290.00 567.00,286.20 566.00,283.00 565.10,280.50 563.00,278.00 558.00,277.00 552.80,276.20" fill="#1010e8" stroke="#1010e8" stroke-width="0.6" stroke-linejoin="round"/>
<rect x="475.2" y="382.0" width="205.6" height="150.0" fill="none" stroke="#4a4a4a" stroke-width="1.3"/>
<line x1="475.2" y1="523.4" x2="477.4" y2="523.4" stroke="#444" stroke-width="1.1" />
<line x1="680.8" y1="523.4" x2="678.6" y2="523.4" stroke="#444" stroke-width="1.1" />
<line x1="475.2" y1="509.2" x2="479.0" y2="509.2" stroke="#444" stroke-width="1.1" />
<line x1="680.8" y1="509.2" x2="677.0" y2="509.2" stroke="#444" stroke-width="1.1" />
<line x1="475.2" y1="495.0" x2="477.4" y2="495.0" stroke="#444" stroke-width="1.1" />
<line x1="680.8" y1="495.0" x2="678.6" y2="495.0" stroke="#444" stroke-width="1.1" />
<line x1="475.2" y1="480.8" x2="479.0" y2="480.8" stroke="#444" stroke-width="1.1" />
<line x1="680.8" y1="480.8" x2="677.0" y2="480.8" stroke="#444" stroke-width="1.1" />
<line x1="475.2" y1="466.6" x2="477.4" y2="466.6" stroke="#444" stroke-width="1.1" />
<line x1="680.8" y1="466.6" x2="678.6" y2="466.6" stroke="#444" stroke-width="1.1" />
<line x1="475.2" y1="452.4" x2="479.0" y2="452.4" stroke="#444" stroke-width="1.1" />
<line x1="680.8" y1="452.4" x2="677.0" y2="452.4" stroke="#444" stroke-width="1.1" />
<line x1="475.2" y1="438.3" x2="477.4" y2="438.3" stroke="#444" stroke-width="1.1" />
<line x1="680.8" y1="438.3" x2="678.6" y2="438.3" stroke="#444" stroke-width="1.1" />
<line x1="475.2" y1="424.1" x2="479.0" y2="424.1" stroke="#444" stroke-width="1.1" />
<line x1="680.8" y1="424.1" x2="677.0" y2="424.1" stroke="#444" stroke-width="1.1" />
<line x1="475.2" y1="409.9" x2="477.4" y2="409.9" stroke="#444" stroke-width="1.1" />
<line x1="680.8" y1="409.9" x2="678.6" y2="409.9" stroke="#444" stroke-width="1.1" />
<line x1="475.2" y1="395.7" x2="479.0" y2="395.7" stroke="#444" stroke-width="1.1" />
<line x1="680.8" y1="395.7" x2="677.0" y2="395.7" stroke="#444" stroke-width="1.1" />
<line x1="485.5" y1="382.0" x2="485.5" y2="384.2" stroke="#444" stroke-width="1.1" />
<line x1="485.5" y1="532.0" x2="485.5" y2="529.8" stroke="#444" stroke-width="1.1" />
<line x1="495.8" y1="382.0" x2="495.8" y2="385.8" stroke="#444" stroke-width="1.1" />
<line x1="495.8" y1="532.0" x2="495.8" y2="528.2" stroke="#444" stroke-width="1.1" />
<line x1="506.1" y1="382.0" x2="506.1" y2="384.2" stroke="#444" stroke-width="1.1" />
<line x1="506.1" y1="532.0" x2="506.1" y2="529.8" stroke="#444" stroke-width="1.1" />
<line x1="516.4" y1="382.0" x2="516.4" y2="385.8" stroke="#444" stroke-width="1.1" />
<line x1="516.4" y1="532.0" x2="516.4" y2="528.2" stroke="#444" stroke-width="1.1" />
<line x1="526.7" y1="382.0" x2="526.7" y2="384.2" stroke="#444" stroke-width="1.1" />
<line x1="526.7" y1="532.0" x2="526.7" y2="529.8" stroke="#444" stroke-width="1.1" />
<line x1="537.0" y1="382.0" x2="537.0" y2="385.8" stroke="#444" stroke-width="1.1" />
<line x1="537.0" y1="532.0" x2="537.0" y2="528.2" stroke="#444" stroke-width="1.1" />
<line x1="547.3" y1="382.0" x2="547.3" y2="384.2" stroke="#444" stroke-width="1.1" />
<line x1="547.3" y1="532.0" x2="547.3" y2="529.8" stroke="#444" stroke-width="1.1" />
<line x1="557.6" y1="382.0" x2="557.6" y2="385.8" stroke="#444" stroke-width="1.1" />
<line x1="557.6" y1="532.0" x2="557.6" y2="528.2" stroke="#444" stroke-width="1.1" />
<line x1="567.9" y1="382.0" x2="567.9" y2="384.2" stroke="#444" stroke-width="1.1" />
<line x1="567.9" y1="532.0" x2="567.9" y2="529.8" stroke="#444" stroke-width="1.1" />
<line x1="578.2" y1="382.0" x2="578.2" y2="385.8" stroke="#444" stroke-width="1.1" />
<line x1="578.2" y1="532.0" x2="578.2" y2="528.2" stroke="#444" stroke-width="1.1" />
<line x1="588.5" y1="382.0" x2="588.5" y2="384.2" stroke="#444" stroke-width="1.1" />
<line x1="588.5" y1="532.0" x2="588.5" y2="529.8" stroke="#444" stroke-width="1.1" />
<line x1="598.8" y1="382.0" x2="598.8" y2="385.8" stroke="#444" stroke-width="1.1" />
<line x1="598.8" y1="532.0" x2="598.8" y2="528.2" stroke="#444" stroke-width="1.1" />
<line x1="609.1" y1="382.0" x2="609.1" y2="384.2" stroke="#444" stroke-width="1.1" />
<line x1="609.1" y1="532.0" x2="609.1" y2="529.8" stroke="#444" stroke-width="1.1" />
<line x1="619.4" y1="382.0" x2="619.4" y2="385.8" stroke="#444" stroke-width="1.1" />
<line x1="619.4" y1="532.0" x2="619.4" y2="528.2" stroke="#444" stroke-width="1.1" />
<line x1="629.7" y1="382.0" x2="629.7" y2="384.2" stroke="#444" stroke-width="1.1" />
<line x1="629.7" y1="532.0" x2="629.7" y2="529.8" stroke="#444" stroke-width="1.1" />
<line x1="640.0" y1="382.0" x2="640.0" y2="385.8" stroke="#444" stroke-width="1.1" />
<line x1="640.0" y1="532.0" x2="640.0" y2="528.2" stroke="#444" stroke-width="1.1" />
<line x1="650.3" y1="382.0" x2="650.3" y2="384.2" stroke="#444" stroke-width="1.1" />
<line x1="650.3" y1="532.0" x2="650.3" y2="529.8" stroke="#444" stroke-width="1.1" />
<line x1="660.6" y1="382.0" x2="660.6" y2="385.8" stroke="#444" stroke-width="1.1" />
<line x1="660.6" y1="532.0" x2="660.6" y2="528.2" stroke="#444" stroke-width="1.1" />
<line x1="670.9" y1="382.0" x2="670.9" y2="384.2" stroke="#444" stroke-width="1.1" />
<line x1="670.9" y1="532.0" x2="670.9" y2="529.8" stroke="#444" stroke-width="1.1" />
<text x="455.63" y="400.1" font-size="12.4" fill="#444" font-weight="normal" font-style="normal" textLength="15.82" lengthAdjust="spacingAndGlyphs" >1.0</text>
<text x="456.05" y="428.47" font-size="12.4" fill="#444" font-weight="normal" font-style="normal" textLength="15.38" lengthAdjust="spacingAndGlyphs" >0.5</text>
<text x="456.05" y="456.85" font-size="12.4" fill="#444" font-weight="normal" font-style="normal" textLength="15.38" lengthAdjust="spacingAndGlyphs" >0.0</text>
<text x="451.59" y="485.22" font-size="12.4" fill="#444" font-weight="normal" font-style="normal" textLength="19.89" lengthAdjust="spacingAndGlyphs" >-0.5</text>
<text x="451.59" y="513.6" font-size="12.4" fill="#444" font-weight="normal" font-style="normal" textLength="19.89" lengthAdjust="spacingAndGlyphs" >-1.0</text>
<text x="469.6" y="545.0" font-size="12.3" fill="#444" font-weight="normal" font-style="normal" textLength="10.94" lengthAdjust="spacingAndGlyphs" >-5</text>
<text x="490.21" y="545.0" font-size="12.3" fill="#444" font-weight="normal" font-style="normal" textLength="10.77" lengthAdjust="spacingAndGlyphs" >-4</text>
<text x="510.8" y="545.0" font-size="12.3" fill="#444" font-weight="normal" font-style="normal" textLength="10.99" lengthAdjust="spacingAndGlyphs" >-3</text>
<text x="531.39" y="545.0" font-size="12.3" fill="#444" font-weight="normal" font-style="normal" textLength="11.05" lengthAdjust="spacingAndGlyphs" >-2</text>
<text x="551.99" y="545.0" font-size="12.3" fill="#444" font-weight="normal" font-style="normal" textLength="11.05" lengthAdjust="spacingAndGlyphs" >-1</text>
<text x="574.92" y="545.0" font-size="12.3" fill="#444" font-weight="normal" font-style="normal" textLength="6.55" lengthAdjust="spacingAndGlyphs" >0</text>
<text x="595.0" y="545.0" font-size="12.3" fill="#444" font-weight="normal" font-style="normal" textLength="7.23" lengthAdjust="spacingAndGlyphs" >1</text>
<text x="616.01" y="545.0" font-size="12.3" fill="#444" font-weight="normal" font-style="normal" textLength="6.78" lengthAdjust="spacingAndGlyphs" >2</text>
<text x="636.77" y="545.0" font-size="12.3" fill="#444" font-weight="normal" font-style="normal" textLength="6.55" lengthAdjust="spacingAndGlyphs" >3</text>
<text x="657.53" y="545.0" font-size="12.3" fill="#444" font-weight="normal" font-style="normal" textLength="6.18" lengthAdjust="spacingAndGlyphs" >4</text>
<text x="677.92" y="545.0" font-size="12.3" fill="#444" font-weight="normal" font-style="normal" textLength="6.55" lengthAdjust="spacingAndGlyphs" >5</text>
<polyline points="475.60,454.30 476.69,453.98 478.19,453.54 479.98,453.01 481.89,452.45 483.78,451.90 485.50,451.40 487.11,450.91 488.72,450.39 490.31,449.87 491.86,449.40 493.33,449.03 494.70,448.80 495.94,448.69 497.06,448.65 498.11,448.71 499.13,448.88 500.14,449.17 501.20,449.60 502.30,450.20 503.41,450.96 504.53,451.84 505.64,452.80 506.73,453.80 507.80,454.80 508.85,455.93 509.90,457.24 510.93,458.59 511.93,459.84 512.89,460.82 513.80,461.40 514.63,461.50 515.38,461.21 516.09,460.68 516.80,460.00 517.52,459.30 518.30,458.70 519.12,458.11 519.96,457.40 520.82,456.68 521.71,456.03 522.64,455.54 523.60,455.30 524.60,455.39 525.63,455.74 526.69,456.26 527.79,456.83 528.92,457.34 530.10,457.70 531.37,457.93 532.73,458.12 534.13,458.26 535.51,458.33 536.82,458.32 538.00,458.20 539.01,457.96 539.88,457.62 540.68,457.19 541.46,456.70 542.28,456.16 543.20,455.60 544.22,454.96 545.30,454.23 546.41,453.45 547.55,452.68 548.68,451.98 549.80,451.40 550.93,451.02 552.10,450.80 553.27,450.65 554.40,450.47 555.46,450.15 556.40,449.60 557.21,448.91 557.90,448.19 558.52,447.34 559.10,446.25 559.68,444.84 560.30,443.00 560.95,440.65 561.60,437.84 562.24,434.70 562.89,431.36 563.54,427.95 564.20,424.60 564.86,421.10 565.53,417.33 566.20,413.48 566.87,409.76 567.54,406.40 568.20,403.60 568.86,401.30 569.53,399.32 570.20,397.69 570.86,396.44 571.49,395.60 572.10,395.20 572.67,394.96 573.20,394.81 573.72,395.07 574.23,396.06 574.75,398.09 575.30,401.50 575.88,406.57 576.48,413.09 577.09,420.66 577.70,428.88 578.31,437.33 578.90,445.60 579.48,454.20 580.06,463.55 580.62,473.13 581.19,482.43 581.75,490.93 582.30,498.10 582.84,504.25 583.36,509.86 583.87,514.66 584.39,518.40 584.93,520.83 585.50,521.70 586.11,520.59 586.74,517.62 587.40,513.34 588.07,508.30 588.74,503.04 589.40,498.10 590.06,493.09 590.73,487.50 591.40,481.69 592.07,476.03 592.74,470.88 593.40,466.60 594.06,463.25 594.71,460.53 595.36,458.33 596.00,456.50 596.65,454.94 597.30,453.50 597.93,452.20 598.55,451.13 599.16,450.32 599.80,449.79 600.47,449.54 601.20,449.60 602.00,450.01 602.87,450.75 603.77,451.79 604.69,453.06 605.61,454.51 606.50,456.10 607.39,458.23 608.29,461.04 609.18,464.04 610.06,466.72 610.90,468.61 611.70,469.20 612.42,468.46 613.08,466.76 613.70,464.27 614.32,461.13 614.98,457.49 615.70,453.50 616.51,448.34 617.39,441.72 618.30,434.61 619.21,427.96 620.09,422.73 620.90,419.90 621.64,419.75 622.33,421.57 622.98,424.81 623.62,428.94 624.25,433.42 624.90,437.70 625.56,442.56 626.21,448.60 626.86,454.98 627.50,460.87 628.15,465.45 628.80,467.90 629.45,467.68 630.10,465.34 630.74,461.70 631.39,457.54 632.04,453.68 632.70,450.90 633.35,449.05 633.98,447.44 634.62,446.12 635.27,445.14 635.96,444.52 636.70,444.30 637.48,444.57 638.29,445.30 639.14,446.40 640.02,447.77 640.94,449.30 641.90,450.90 642.94,452.91 644.05,455.49 645.20,458.24 646.35,460.75 647.46,462.64 648.50,463.50 649.42,463.15 650.24,461.88 651.02,459.98 651.82,457.74 652.69,455.49 653.70,453.50 654.88,451.52 656.18,449.27 657.56,446.98 658.96,444.92 660.33,443.34 661.60,442.50 662.80,442.63 663.98,443.57 665.12,445.00 666.21,446.57 667.24,447.95 668.20,448.80 669.07,449.03 669.87,448.89 670.60,448.56 671.29,448.22 671.95,448.04 672.60,448.20 673.22,448.62 673.78,449.14 674.31,449.83 674.84,450.74 675.40,451.95 676.00,453.50 676.70,455.70 677.50,458.54 678.31,461.68 679.08,464.74 679.73,467.37 680.20,469.20" fill="none" stroke="#707070" stroke-width="2.3" stroke-linejoin="round"/>
<text x="6.57" y="17.1" font-size="18" fill="#111" font-weight="normal" font-style="normal" textLength="15.5" lengthAdjust="spacingAndGlyphs" >a)</text>
<text x="0.23" y="316.3" font-size="17.5" fill="#111" font-weight="normal" font-style="normal" textLength="15.85" lengthAdjust="spacingAndGlyphs" >b)</text>
<text x="392.24" y="15.7" font-size="17.5" fill="#111" font-weight="normal" font-style="normal" textLength="14.86" lengthAdjust="spacingAndGlyphs" >c)</text>
<text x="54.89" y="270.3" font-size="13.6" fill="#222" font-weight="normal" font-style="normal" textLength="116.85" lengthAdjust="spacingAndGlyphs" stroke="#222" stroke-width="0.22">horizontal position</text>
<text x="238.89" y="270.5" font-size="13.6" fill="#222" font-weight="normal" font-style="normal" textLength="117.05" lengthAdjust="spacingAndGlyphs" stroke="#222" stroke-width="0.22">horizontal position</text>
<text transform="translate(32.8,247.06) rotate(-90)" font-size="12.2" fill="#222" font-weight="normal" font-style="normal" textLength="99.08" lengthAdjust="spacingAndGlyphs" stroke="#222" stroke-width="0.22">vertical position</text>
<text transform="translate(219.0,246.76) rotate(-90)" font-size="12.2" fill="#222" font-weight="normal" font-style="normal" textLength="99.79" lengthAdjust="spacingAndGlyphs" stroke="#222" stroke-width="0.22">vertical position</text>
<text x="103.62" y="292.4" font-size="17" fill="#111" font-weight="normal" font-style="normal" textLength="22.36" lengthAdjust="spacingAndGlyphs" stroke="#222" stroke-width="0.22">DR</text>
<text x="208.82" y="291.8" font-size="16.0" fill="#111" font-weight="normal" font-style="normal" textLength="81.51" lengthAdjust="spacingAndGlyphs" stroke="#222" stroke-width="0.22">undulator</text>
<text x="292.19" y="291.8" font-size="14.5" fill="#111" font-weight="normal" font-style="normal" textLength="16.75" lengthAdjust="spacingAndGlyphs" stroke="#222" stroke-width="0.22">@</text>
<text x="317.94" y="291.8" font-size="15.8" fill="#111" font-weight="normal" font-style="normal" textLength="23.1" lengthAdjust="spacingAndGlyphs" stroke="#222" stroke-width="0.22">1.4</text>
<text x="345.12" y="291.8" font-size="15.8" fill="#111" font-weight="normal" font-style="normal" textLength="31.77" lengthAdjust="spacingAndGlyphs" stroke="#222" stroke-width="0.22">THz</text>
<text x="139.69" y="566.5" font-size="16" fill="#111" font-weight="normal" font-style="normal" textLength="119.65" lengthAdjust="spacingAndGlyphs" >frequency / THz</text>
<text x="604.03" y="27.7" font-size="14.2" fill="#d2283a" font-weight="bold" font-style="normal" textLength="69.89" lengthAdjust="spacingAndGlyphs" >0.15 THz</text>
<text x="603.42" y="132" font-size="15" fill="#3ee83e" font-weight="bold" font-style="normal" textLength="59.72" lengthAdjust="spacingAndGlyphs" >0.5 THz</text>
<text x="598.69" y="232" font-size="14.7" fill="#1a1aa8" font-weight="bold" font-style="normal" textLength="60.98" lengthAdjust="spacingAndGlyphs" >0.9 THz</text>
<text x="496.29" y="124.5" font-size="15" fill="#222" font-weight="normal" font-style="normal" textLength="6.6" lengthAdjust="spacingAndGlyphs" stroke="#222" stroke-width="0.3">1</text>
<text x="542.13" y="368.5" font-size="15.6" fill="#111" font-weight="normal" font-style="normal" textLength="22.39" lengthAdjust="spacingAndGlyphs" >tim</text>
<text x="564.97" y="368.5" font-size="15.6" fill="#111" font-weight="normal" font-style="normal" textLength="43.06" lengthAdjust="spacingAndGlyphs" >e / ps</text>
<text transform="translate(449.7,255.76) rotate(-90)" font-size="17.5" fill="#111" font-weight="normal" font-style="normal" textLength="154.30" lengthAdjust="spacingAndGlyphs" >electric field / norm.</text>
<text transform="translate(436.9,536.86) rotate(-90)" font-size="16" fill="#111" font-weight="normal" font-style="normal" textLength="140.03" lengthAdjust="spacingAndGlyphs" >electric field / norm.</text>
<text x="547.23" y="563.4" font-size="15.2" fill="#111" font-weight="normal" font-style="normal" textLength="61.45" lengthAdjust="spacingAndGlyphs" >time / ps</text>
<text x="646.63" y="402.3" font-size="15.8" fill="#c8c8c8" font-weight="bold" font-style="normal" textLength="25.43" lengthAdjust="spacingAndGlyphs" >DR</text>
</svg></body></html>
